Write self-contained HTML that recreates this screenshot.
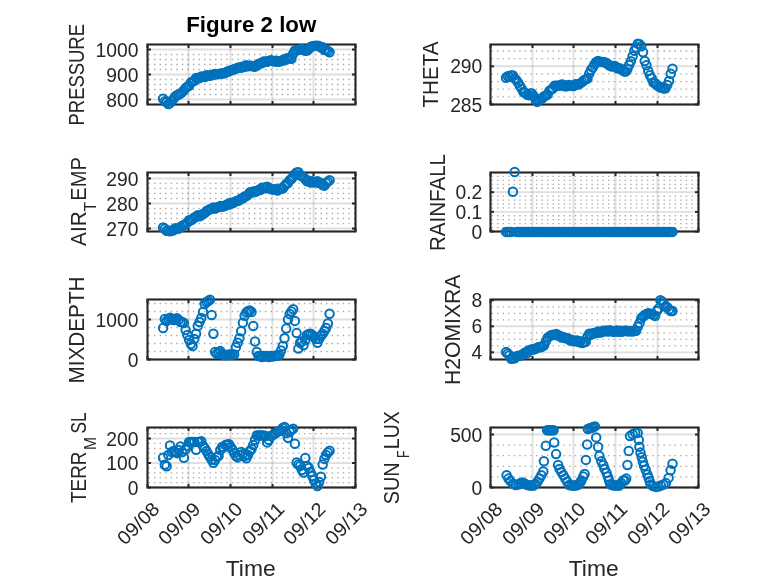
<!DOCTYPE html>
<html><head><meta charset="utf-8"><style>
html,body{margin:0;padding:0;background:#fff;width:778px;height:583px;overflow:hidden}
svg{display:block;will-change:transform}
text{font-family:"Liberation Sans",sans-serif;fill:#262626}
.tk{font-size:19.3px}
.yl{font-size:20px}
.sub{font-size:15px}
.ti{font-size:22.3px;font-weight:bold;fill:#000}
</style></head><body>
<svg width="778" height="583" viewBox="0 0 778 583">
<rect width="778" height="583" fill="#fff"/>
<line x1="147.5" y1="94.50" x2="355.5" y2="94.50" stroke="#a8a8a8" stroke-width="1.3" stroke-dasharray="1.4 4.15" stroke-dashoffset="-1.0"/>
<line x1="147.5" y1="89.50" x2="355.5" y2="89.50" stroke="#a8a8a8" stroke-width="1.3" stroke-dasharray="1.4 4.15" stroke-dashoffset="-1.0"/>
<line x1="147.5" y1="84.50" x2="355.5" y2="84.50" stroke="#a8a8a8" stroke-width="1.3" stroke-dasharray="1.4 4.15" stroke-dashoffset="-1.0"/>
<line x1="147.5" y1="79.50" x2="355.5" y2="79.50" stroke="#a8a8a8" stroke-width="1.3" stroke-dasharray="1.4 4.15" stroke-dashoffset="-1.0"/>
<line x1="147.5" y1="69.50" x2="355.5" y2="69.50" stroke="#a8a8a8" stroke-width="1.3" stroke-dasharray="1.4 4.15" stroke-dashoffset="-1.0"/>
<line x1="147.5" y1="64.50" x2="355.5" y2="64.50" stroke="#a8a8a8" stroke-width="1.3" stroke-dasharray="1.4 4.15" stroke-dashoffset="-1.0"/>
<line x1="147.5" y1="59.50" x2="355.5" y2="59.50" stroke="#a8a8a8" stroke-width="1.3" stroke-dasharray="1.4 4.15" stroke-dashoffset="-1.0"/>
<line x1="147.5" y1="54.50" x2="355.5" y2="54.50" stroke="#a8a8a8" stroke-width="1.3" stroke-dasharray="1.4 4.15" stroke-dashoffset="-1.0"/>
<line x1="147.5" y1="99.50" x2="355.5" y2="99.50" stroke="#262626" stroke-opacity="0.14" stroke-width="1.9"/>
<line x1="147.5" y1="74.50" x2="355.5" y2="74.50" stroke="#262626" stroke-opacity="0.14" stroke-width="1.9"/>
<line x1="147.5" y1="49.50" x2="355.5" y2="49.50" stroke="#262626" stroke-opacity="0.14" stroke-width="1.9"/>
<line x1="188.50" y1="44.5" x2="188.50" y2="104.5" stroke="#262626" stroke-opacity="0.14" stroke-width="1.9"/>
<line x1="230.50" y1="44.5" x2="230.50" y2="104.5" stroke="#262626" stroke-opacity="0.14" stroke-width="1.9"/>
<line x1="272.50" y1="44.5" x2="272.50" y2="104.5" stroke="#262626" stroke-opacity="0.14" stroke-width="1.9"/>
<line x1="313.50" y1="44.5" x2="313.50" y2="104.5" stroke="#262626" stroke-opacity="0.14" stroke-width="1.9"/>
<line x1="147.5" y1="99.50" x2="151.0" y2="99.50" stroke="#262626" stroke-width="2.0"/>
<line x1="355.5" y1="99.50" x2="352.0" y2="99.50" stroke="#262626" stroke-width="2.0"/>
<line x1="147.5" y1="74.50" x2="151.0" y2="74.50" stroke="#262626" stroke-width="2.0"/>
<line x1="355.5" y1="74.50" x2="352.0" y2="74.50" stroke="#262626" stroke-width="2.0"/>
<line x1="147.5" y1="49.50" x2="151.0" y2="49.50" stroke="#262626" stroke-width="2.0"/>
<line x1="355.5" y1="49.50" x2="352.0" y2="49.50" stroke="#262626" stroke-width="2.0"/>
<line x1="147.50" y1="44.5" x2="147.50" y2="48.0" stroke="#262626" stroke-width="2.0"/>
<line x1="147.50" y1="104.5" x2="147.50" y2="101.0" stroke="#262626" stroke-width="2.0"/>
<line x1="188.50" y1="44.5" x2="188.50" y2="48.0" stroke="#262626" stroke-width="2.0"/>
<line x1="188.50" y1="104.5" x2="188.50" y2="101.0" stroke="#262626" stroke-width="2.0"/>
<line x1="230.50" y1="44.5" x2="230.50" y2="48.0" stroke="#262626" stroke-width="2.0"/>
<line x1="230.50" y1="104.5" x2="230.50" y2="101.0" stroke="#262626" stroke-width="2.0"/>
<line x1="272.50" y1="44.5" x2="272.50" y2="48.0" stroke="#262626" stroke-width="2.0"/>
<line x1="272.50" y1="104.5" x2="272.50" y2="101.0" stroke="#262626" stroke-width="2.0"/>
<line x1="313.50" y1="44.5" x2="313.50" y2="48.0" stroke="#262626" stroke-width="2.0"/>
<line x1="313.50" y1="104.5" x2="313.50" y2="101.0" stroke="#262626" stroke-width="2.0"/>
<line x1="355.50" y1="44.5" x2="355.50" y2="48.0" stroke="#262626" stroke-width="2.0"/>
<line x1="355.50" y1="104.5" x2="355.50" y2="101.0" stroke="#262626" stroke-width="2.0"/>
<rect x="147.5" y="44.5" width="208.0" height="60.0" fill="none" stroke="#262626" stroke-width="2.1"/>
<text x="138.50" y="106.60" text-anchor="end" class="tk">800</text>
<text x="138.50" y="81.60" text-anchor="end" class="tk">900</text>
<text x="138.50" y="56.60" text-anchor="end" class="tk">1000</text>
<text transform="translate(84.00,125.50) rotate(-90)" style="font-size:22px" textLength="101.50" lengthAdjust="spacingAndGlyphs">PRESSURE</text>
<circle cx="163.11" cy="98.69" r="4.25" fill="none" stroke="#0072BD" stroke-width="2.0"/>
<circle cx="164.84" cy="101.35" r="4.25" fill="none" stroke="#0072BD" stroke-width="2.0"/>
<circle cx="166.58" cy="102.14" r="4.25" fill="none" stroke="#0072BD" stroke-width="2.0"/>
<circle cx="168.31" cy="104.05" r="4.25" fill="none" stroke="#0072BD" stroke-width="2.0"/>
<circle cx="170.04" cy="103.14" r="4.25" fill="none" stroke="#0072BD" stroke-width="2.0"/>
<circle cx="171.78" cy="100.64" r="4.25" fill="none" stroke="#0072BD" stroke-width="2.0"/>
<circle cx="173.51" cy="98.86" r="4.25" fill="none" stroke="#0072BD" stroke-width="2.0"/>
<circle cx="175.25" cy="96.38" r="4.25" fill="none" stroke="#0072BD" stroke-width="2.0"/>
<circle cx="176.98" cy="95.33" r="4.25" fill="none" stroke="#0072BD" stroke-width="2.0"/>
<circle cx="178.72" cy="94.46" r="4.25" fill="none" stroke="#0072BD" stroke-width="2.0"/>
<circle cx="180.45" cy="93.50" r="4.25" fill="none" stroke="#0072BD" stroke-width="2.0"/>
<circle cx="182.18" cy="92.37" r="4.25" fill="none" stroke="#0072BD" stroke-width="2.0"/>
<circle cx="183.92" cy="90.14" r="4.25" fill="none" stroke="#0072BD" stroke-width="2.0"/>
<circle cx="185.65" cy="88.11" r="4.25" fill="none" stroke="#0072BD" stroke-width="2.0"/>
<circle cx="187.39" cy="86.62" r="4.25" fill="none" stroke="#0072BD" stroke-width="2.0"/>
<circle cx="189.12" cy="85.73" r="4.25" fill="none" stroke="#0072BD" stroke-width="2.0"/>
<circle cx="190.85" cy="82.57" r="4.25" fill="none" stroke="#0072BD" stroke-width="2.0"/>
<circle cx="192.59" cy="81.46" r="4.25" fill="none" stroke="#0072BD" stroke-width="2.0"/>
<circle cx="194.32" cy="80.78" r="4.25" fill="none" stroke="#0072BD" stroke-width="2.0"/>
<circle cx="196.06" cy="78.05" r="4.25" fill="none" stroke="#0072BD" stroke-width="2.0"/>
<circle cx="197.79" cy="78.28" r="4.25" fill="none" stroke="#0072BD" stroke-width="2.0"/>
<circle cx="199.53" cy="78.11" r="4.25" fill="none" stroke="#0072BD" stroke-width="2.0"/>
<circle cx="201.26" cy="76.46" r="4.25" fill="none" stroke="#0072BD" stroke-width="2.0"/>
<circle cx="202.99" cy="76.69" r="4.25" fill="none" stroke="#0072BD" stroke-width="2.0"/>
<circle cx="204.73" cy="76.99" r="4.25" fill="none" stroke="#0072BD" stroke-width="2.0"/>
<circle cx="206.46" cy="75.25" r="4.25" fill="none" stroke="#0072BD" stroke-width="2.0"/>
<circle cx="208.20" cy="75.60" r="4.25" fill="none" stroke="#0072BD" stroke-width="2.0"/>
<circle cx="209.93" cy="75.66" r="4.25" fill="none" stroke="#0072BD" stroke-width="2.0"/>
<circle cx="211.66" cy="75.17" r="4.25" fill="none" stroke="#0072BD" stroke-width="2.0"/>
<circle cx="213.40" cy="74.52" r="4.25" fill="none" stroke="#0072BD" stroke-width="2.0"/>
<circle cx="215.13" cy="73.93" r="4.25" fill="none" stroke="#0072BD" stroke-width="2.0"/>
<circle cx="216.87" cy="74.33" r="4.25" fill="none" stroke="#0072BD" stroke-width="2.0"/>
<circle cx="218.60" cy="74.00" r="4.25" fill="none" stroke="#0072BD" stroke-width="2.0"/>
<circle cx="220.33" cy="73.80" r="4.25" fill="none" stroke="#0072BD" stroke-width="2.0"/>
<circle cx="222.07" cy="73.14" r="4.25" fill="none" stroke="#0072BD" stroke-width="2.0"/>
<circle cx="223.80" cy="73.51" r="4.25" fill="none" stroke="#0072BD" stroke-width="2.0"/>
<circle cx="225.54" cy="72.80" r="4.25" fill="none" stroke="#0072BD" stroke-width="2.0"/>
<circle cx="227.27" cy="71.41" r="4.25" fill="none" stroke="#0072BD" stroke-width="2.0"/>
<circle cx="229.01" cy="71.34" r="4.25" fill="none" stroke="#0072BD" stroke-width="2.0"/>
<circle cx="230.74" cy="70.31" r="4.25" fill="none" stroke="#0072BD" stroke-width="2.0"/>
<circle cx="232.47" cy="70.12" r="4.25" fill="none" stroke="#0072BD" stroke-width="2.0"/>
<circle cx="234.21" cy="69.14" r="4.25" fill="none" stroke="#0072BD" stroke-width="2.0"/>
<circle cx="235.94" cy="68.88" r="4.25" fill="none" stroke="#0072BD" stroke-width="2.0"/>
<circle cx="237.68" cy="67.73" r="4.25" fill="none" stroke="#0072BD" stroke-width="2.0"/>
<circle cx="239.41" cy="67.54" r="4.25" fill="none" stroke="#0072BD" stroke-width="2.0"/>
<circle cx="241.14" cy="67.67" r="4.25" fill="none" stroke="#0072BD" stroke-width="2.0"/>
<circle cx="242.88" cy="66.58" r="4.25" fill="none" stroke="#0072BD" stroke-width="2.0"/>
<circle cx="244.61" cy="66.89" r="4.25" fill="none" stroke="#0072BD" stroke-width="2.0"/>
<circle cx="246.35" cy="65.13" r="4.25" fill="none" stroke="#0072BD" stroke-width="2.0"/>
<circle cx="248.08" cy="66.18" r="4.25" fill="none" stroke="#0072BD" stroke-width="2.0"/>
<circle cx="249.82" cy="65.65" r="4.25" fill="none" stroke="#0072BD" stroke-width="2.0"/>
<circle cx="251.55" cy="65.85" r="4.25" fill="none" stroke="#0072BD" stroke-width="2.0"/>
<circle cx="253.28" cy="66.54" r="4.25" fill="none" stroke="#0072BD" stroke-width="2.0"/>
<circle cx="255.02" cy="66.63" r="4.25" fill="none" stroke="#0072BD" stroke-width="2.0"/>
<circle cx="256.75" cy="65.63" r="4.25" fill="none" stroke="#0072BD" stroke-width="2.0"/>
<circle cx="258.49" cy="64.08" r="4.25" fill="none" stroke="#0072BD" stroke-width="2.0"/>
<circle cx="260.22" cy="63.25" r="4.25" fill="none" stroke="#0072BD" stroke-width="2.0"/>
<circle cx="261.95" cy="63.13" r="4.25" fill="none" stroke="#0072BD" stroke-width="2.0"/>
<circle cx="263.69" cy="61.56" r="4.25" fill="none" stroke="#0072BD" stroke-width="2.0"/>
<circle cx="265.42" cy="61.46" r="4.25" fill="none" stroke="#0072BD" stroke-width="2.0"/>
<circle cx="267.16" cy="61.70" r="4.25" fill="none" stroke="#0072BD" stroke-width="2.0"/>
<circle cx="268.89" cy="61.07" r="4.25" fill="none" stroke="#0072BD" stroke-width="2.0"/>
<circle cx="270.63" cy="60.14" r="4.25" fill="none" stroke="#0072BD" stroke-width="2.0"/>
<circle cx="272.36" cy="60.81" r="4.25" fill="none" stroke="#0072BD" stroke-width="2.0"/>
<circle cx="274.09" cy="61.52" r="4.25" fill="none" stroke="#0072BD" stroke-width="2.0"/>
<circle cx="275.83" cy="60.75" r="4.25" fill="none" stroke="#0072BD" stroke-width="2.0"/>
<circle cx="277.56" cy="61.83" r="4.25" fill="none" stroke="#0072BD" stroke-width="2.0"/>
<circle cx="279.30" cy="61.54" r="4.25" fill="none" stroke="#0072BD" stroke-width="2.0"/>
<circle cx="281.03" cy="61.02" r="4.25" fill="none" stroke="#0072BD" stroke-width="2.0"/>
<circle cx="282.76" cy="60.00" r="4.25" fill="none" stroke="#0072BD" stroke-width="2.0"/>
<circle cx="284.50" cy="60.25" r="4.25" fill="none" stroke="#0072BD" stroke-width="2.0"/>
<circle cx="286.23" cy="58.51" r="4.25" fill="none" stroke="#0072BD" stroke-width="2.0"/>
<circle cx="287.97" cy="58.36" r="4.25" fill="none" stroke="#0072BD" stroke-width="2.0"/>
<circle cx="289.70" cy="58.44" r="4.25" fill="none" stroke="#0072BD" stroke-width="2.0"/>
<circle cx="291.44" cy="58.74" r="4.25" fill="none" stroke="#0072BD" stroke-width="2.0"/>
<circle cx="293.17" cy="53.73" r="4.25" fill="none" stroke="#0072BD" stroke-width="2.0"/>
<circle cx="294.90" cy="50.54" r="4.25" fill="none" stroke="#0072BD" stroke-width="2.0"/>
<circle cx="296.64" cy="50.34" r="4.25" fill="none" stroke="#0072BD" stroke-width="2.0"/>
<circle cx="298.37" cy="49.88" r="4.25" fill="none" stroke="#0072BD" stroke-width="2.0"/>
<circle cx="300.11" cy="49.45" r="4.25" fill="none" stroke="#0072BD" stroke-width="2.0"/>
<circle cx="301.84" cy="49.01" r="4.25" fill="none" stroke="#0072BD" stroke-width="2.0"/>
<circle cx="303.57" cy="50.04" r="4.25" fill="none" stroke="#0072BD" stroke-width="2.0"/>
<circle cx="305.31" cy="50.68" r="4.25" fill="none" stroke="#0072BD" stroke-width="2.0"/>
<circle cx="307.04" cy="50.57" r="4.25" fill="none" stroke="#0072BD" stroke-width="2.0"/>
<circle cx="308.78" cy="49.06" r="4.25" fill="none" stroke="#0072BD" stroke-width="2.0"/>
<circle cx="310.51" cy="47.04" r="4.25" fill="none" stroke="#0072BD" stroke-width="2.0"/>
<circle cx="312.25" cy="46.15" r="4.25" fill="none" stroke="#0072BD" stroke-width="2.0"/>
<circle cx="313.98" cy="45.95" r="4.25" fill="none" stroke="#0072BD" stroke-width="2.0"/>
<circle cx="315.71" cy="45.79" r="4.25" fill="none" stroke="#0072BD" stroke-width="2.0"/>
<circle cx="317.45" cy="45.64" r="4.25" fill="none" stroke="#0072BD" stroke-width="2.0"/>
<circle cx="319.18" cy="46.10" r="4.25" fill="none" stroke="#0072BD" stroke-width="2.0"/>
<circle cx="320.92" cy="47.49" r="4.25" fill="none" stroke="#0072BD" stroke-width="2.0"/>
<circle cx="322.65" cy="47.22" r="4.25" fill="none" stroke="#0072BD" stroke-width="2.0"/>
<circle cx="324.38" cy="49.96" r="4.25" fill="none" stroke="#0072BD" stroke-width="2.0"/>
<circle cx="326.12" cy="49.70" r="4.25" fill="none" stroke="#0072BD" stroke-width="2.0"/>
<circle cx="327.85" cy="50.88" r="4.25" fill="none" stroke="#0072BD" stroke-width="2.0"/>
<circle cx="329.59" cy="52.23" r="4.25" fill="none" stroke="#0072BD" stroke-width="2.0"/>
<line x1="490.5" y1="96.86" x2="698.5" y2="96.86" stroke="#a8a8a8" stroke-width="1.3" stroke-dasharray="1.4 4.15" stroke-dashoffset="-1.0"/>
<line x1="490.5" y1="89.21" x2="698.5" y2="89.21" stroke="#a8a8a8" stroke-width="1.3" stroke-dasharray="1.4 4.15" stroke-dashoffset="-1.0"/>
<line x1="490.5" y1="81.57" x2="698.5" y2="81.57" stroke="#a8a8a8" stroke-width="1.3" stroke-dasharray="1.4 4.15" stroke-dashoffset="-1.0"/>
<line x1="490.5" y1="73.93" x2="698.5" y2="73.93" stroke="#a8a8a8" stroke-width="1.3" stroke-dasharray="1.4 4.15" stroke-dashoffset="-1.0"/>
<line x1="490.5" y1="58.64" x2="698.5" y2="58.64" stroke="#a8a8a8" stroke-width="1.3" stroke-dasharray="1.4 4.15" stroke-dashoffset="-1.0"/>
<line x1="490.5" y1="51.00" x2="698.5" y2="51.00" stroke="#a8a8a8" stroke-width="1.3" stroke-dasharray="1.4 4.15" stroke-dashoffset="-1.0"/>
<line x1="490.5" y1="104.50" x2="698.5" y2="104.50" stroke="#262626" stroke-opacity="0.14" stroke-width="1.9"/>
<line x1="490.5" y1="66.28" x2="698.5" y2="66.28" stroke="#262626" stroke-opacity="0.14" stroke-width="1.9"/>
<line x1="532.50" y1="44.5" x2="532.50" y2="104.5" stroke="#262626" stroke-opacity="0.14" stroke-width="1.9"/>
<line x1="573.50" y1="44.5" x2="573.50" y2="104.5" stroke="#262626" stroke-opacity="0.14" stroke-width="1.9"/>
<line x1="615.50" y1="44.5" x2="615.50" y2="104.5" stroke="#262626" stroke-opacity="0.14" stroke-width="1.9"/>
<line x1="657.50" y1="44.5" x2="657.50" y2="104.5" stroke="#262626" stroke-opacity="0.14" stroke-width="1.9"/>
<line x1="490.5" y1="104.50" x2="494.0" y2="104.50" stroke="#262626" stroke-width="2.0"/>
<line x1="698.5" y1="104.50" x2="695.0" y2="104.50" stroke="#262626" stroke-width="2.0"/>
<line x1="490.5" y1="66.28" x2="494.0" y2="66.28" stroke="#262626" stroke-width="2.0"/>
<line x1="698.5" y1="66.28" x2="695.0" y2="66.28" stroke="#262626" stroke-width="2.0"/>
<line x1="490.50" y1="44.5" x2="490.50" y2="48.0" stroke="#262626" stroke-width="2.0"/>
<line x1="490.50" y1="104.5" x2="490.50" y2="101.0" stroke="#262626" stroke-width="2.0"/>
<line x1="532.50" y1="44.5" x2="532.50" y2="48.0" stroke="#262626" stroke-width="2.0"/>
<line x1="532.50" y1="104.5" x2="532.50" y2="101.0" stroke="#262626" stroke-width="2.0"/>
<line x1="573.50" y1="44.5" x2="573.50" y2="48.0" stroke="#262626" stroke-width="2.0"/>
<line x1="573.50" y1="104.5" x2="573.50" y2="101.0" stroke="#262626" stroke-width="2.0"/>
<line x1="615.50" y1="44.5" x2="615.50" y2="48.0" stroke="#262626" stroke-width="2.0"/>
<line x1="615.50" y1="104.5" x2="615.50" y2="101.0" stroke="#262626" stroke-width="2.0"/>
<line x1="657.50" y1="44.5" x2="657.50" y2="48.0" stroke="#262626" stroke-width="2.0"/>
<line x1="657.50" y1="104.5" x2="657.50" y2="101.0" stroke="#262626" stroke-width="2.0"/>
<line x1="698.50" y1="44.5" x2="698.50" y2="48.0" stroke="#262626" stroke-width="2.0"/>
<line x1="698.50" y1="104.5" x2="698.50" y2="101.0" stroke="#262626" stroke-width="2.0"/>
<rect x="490.5" y="44.5" width="208.0" height="60.0" fill="none" stroke="#262626" stroke-width="2.1"/>
<text x="482.30" y="111.60" text-anchor="end" class="tk">285</text>
<text x="482.30" y="73.38" text-anchor="end" class="tk">290</text>
<text transform="translate(437.50,107.50) rotate(-90)" style="font-size:22px" textLength="66.00" lengthAdjust="spacingAndGlyphs">THETA</text>
<circle cx="506.01" cy="77.69" r="4.25" fill="none" stroke="#0072BD" stroke-width="2.0"/>
<circle cx="507.74" cy="76.31" r="4.25" fill="none" stroke="#0072BD" stroke-width="2.0"/>
<circle cx="509.48" cy="76.86" r="4.25" fill="none" stroke="#0072BD" stroke-width="2.0"/>
<circle cx="511.21" cy="75.43" r="4.25" fill="none" stroke="#0072BD" stroke-width="2.0"/>
<circle cx="512.94" cy="75.58" r="4.25" fill="none" stroke="#0072BD" stroke-width="2.0"/>
<circle cx="514.68" cy="78.48" r="4.25" fill="none" stroke="#0072BD" stroke-width="2.0"/>
<circle cx="516.41" cy="80.11" r="4.25" fill="none" stroke="#0072BD" stroke-width="2.0"/>
<circle cx="518.15" cy="82.75" r="4.25" fill="none" stroke="#0072BD" stroke-width="2.0"/>
<circle cx="519.88" cy="85.72" r="4.25" fill="none" stroke="#0072BD" stroke-width="2.0"/>
<circle cx="521.62" cy="88.63" r="4.25" fill="none" stroke="#0072BD" stroke-width="2.0"/>
<circle cx="523.35" cy="92.07" r="4.25" fill="none" stroke="#0072BD" stroke-width="2.0"/>
<circle cx="525.08" cy="92.79" r="4.25" fill="none" stroke="#0072BD" stroke-width="2.0"/>
<circle cx="526.82" cy="94.62" r="4.25" fill="none" stroke="#0072BD" stroke-width="2.0"/>
<circle cx="528.55" cy="95.16" r="4.25" fill="none" stroke="#0072BD" stroke-width="2.0"/>
<circle cx="530.29" cy="93.56" r="4.25" fill="none" stroke="#0072BD" stroke-width="2.0"/>
<circle cx="532.02" cy="93.60" r="4.25" fill="none" stroke="#0072BD" stroke-width="2.0"/>
<circle cx="533.75" cy="96.33" r="4.25" fill="none" stroke="#0072BD" stroke-width="2.0"/>
<circle cx="535.49" cy="99.27" r="4.25" fill="none" stroke="#0072BD" stroke-width="2.0"/>
<circle cx="537.22" cy="101.91" r="4.25" fill="none" stroke="#0072BD" stroke-width="2.0"/>
<circle cx="538.96" cy="99.75" r="4.25" fill="none" stroke="#0072BD" stroke-width="2.0"/>
<circle cx="540.69" cy="98.64" r="4.25" fill="none" stroke="#0072BD" stroke-width="2.0"/>
<circle cx="542.42" cy="98.17" r="4.25" fill="none" stroke="#0072BD" stroke-width="2.0"/>
<circle cx="544.16" cy="96.30" r="4.25" fill="none" stroke="#0072BD" stroke-width="2.0"/>
<circle cx="545.89" cy="95.54" r="4.25" fill="none" stroke="#0072BD" stroke-width="2.0"/>
<circle cx="547.63" cy="94.46" r="4.25" fill="none" stroke="#0072BD" stroke-width="2.0"/>
<circle cx="549.36" cy="90.91" r="4.25" fill="none" stroke="#0072BD" stroke-width="2.0"/>
<circle cx="551.10" cy="89.63" r="4.25" fill="none" stroke="#0072BD" stroke-width="2.0"/>
<circle cx="552.83" cy="88.45" r="4.25" fill="none" stroke="#0072BD" stroke-width="2.0"/>
<circle cx="554.56" cy="85.64" r="4.25" fill="none" stroke="#0072BD" stroke-width="2.0"/>
<circle cx="556.30" cy="85.80" r="4.25" fill="none" stroke="#0072BD" stroke-width="2.0"/>
<circle cx="558.03" cy="85.87" r="4.25" fill="none" stroke="#0072BD" stroke-width="2.0"/>
<circle cx="559.77" cy="85.78" r="4.25" fill="none" stroke="#0072BD" stroke-width="2.0"/>
<circle cx="561.50" cy="84.47" r="4.25" fill="none" stroke="#0072BD" stroke-width="2.0"/>
<circle cx="563.24" cy="84.67" r="4.25" fill="none" stroke="#0072BD" stroke-width="2.0"/>
<circle cx="564.97" cy="86.18" r="4.25" fill="none" stroke="#0072BD" stroke-width="2.0"/>
<circle cx="566.70" cy="86.24" r="4.25" fill="none" stroke="#0072BD" stroke-width="2.0"/>
<circle cx="568.44" cy="84.96" r="4.25" fill="none" stroke="#0072BD" stroke-width="2.0"/>
<circle cx="570.17" cy="85.39" r="4.25" fill="none" stroke="#0072BD" stroke-width="2.0"/>
<circle cx="571.91" cy="85.89" r="4.25" fill="none" stroke="#0072BD" stroke-width="2.0"/>
<circle cx="573.64" cy="86.07" r="4.25" fill="none" stroke="#0072BD" stroke-width="2.0"/>
<circle cx="575.37" cy="84.26" r="4.25" fill="none" stroke="#0072BD" stroke-width="2.0"/>
<circle cx="577.11" cy="84.56" r="4.25" fill="none" stroke="#0072BD" stroke-width="2.0"/>
<circle cx="578.84" cy="84.22" r="4.25" fill="none" stroke="#0072BD" stroke-width="2.0"/>
<circle cx="580.58" cy="83.15" r="4.25" fill="none" stroke="#0072BD" stroke-width="2.0"/>
<circle cx="582.31" cy="81.86" r="4.25" fill="none" stroke="#0072BD" stroke-width="2.0"/>
<circle cx="584.04" cy="80.33" r="4.25" fill="none" stroke="#0072BD" stroke-width="2.0"/>
<circle cx="585.78" cy="79.19" r="4.25" fill="none" stroke="#0072BD" stroke-width="2.0"/>
<circle cx="587.51" cy="78.43" r="4.25" fill="none" stroke="#0072BD" stroke-width="2.0"/>
<circle cx="589.25" cy="73.59" r="4.25" fill="none" stroke="#0072BD" stroke-width="2.0"/>
<circle cx="590.98" cy="70.05" r="4.25" fill="none" stroke="#0072BD" stroke-width="2.0"/>
<circle cx="592.72" cy="67.62" r="4.25" fill="none" stroke="#0072BD" stroke-width="2.0"/>
<circle cx="594.45" cy="64.57" r="4.25" fill="none" stroke="#0072BD" stroke-width="2.0"/>
<circle cx="596.18" cy="62.22" r="4.25" fill="none" stroke="#0072BD" stroke-width="2.0"/>
<circle cx="597.92" cy="61.08" r="4.25" fill="none" stroke="#0072BD" stroke-width="2.0"/>
<circle cx="599.65" cy="61.76" r="4.25" fill="none" stroke="#0072BD" stroke-width="2.0"/>
<circle cx="601.39" cy="61.89" r="4.25" fill="none" stroke="#0072BD" stroke-width="2.0"/>
<circle cx="603.12" cy="62.08" r="4.25" fill="none" stroke="#0072BD" stroke-width="2.0"/>
<circle cx="604.86" cy="62.23" r="4.25" fill="none" stroke="#0072BD" stroke-width="2.0"/>
<circle cx="606.59" cy="63.28" r="4.25" fill="none" stroke="#0072BD" stroke-width="2.0"/>
<circle cx="608.32" cy="64.44" r="4.25" fill="none" stroke="#0072BD" stroke-width="2.0"/>
<circle cx="610.06" cy="65.77" r="4.25" fill="none" stroke="#0072BD" stroke-width="2.0"/>
<circle cx="611.79" cy="66.60" r="4.25" fill="none" stroke="#0072BD" stroke-width="2.0"/>
<circle cx="613.53" cy="66.01" r="4.25" fill="none" stroke="#0072BD" stroke-width="2.0"/>
<circle cx="615.26" cy="66.33" r="4.25" fill="none" stroke="#0072BD" stroke-width="2.0"/>
<circle cx="616.99" cy="68.05" r="4.25" fill="none" stroke="#0072BD" stroke-width="2.0"/>
<circle cx="618.73" cy="68.47" r="4.25" fill="none" stroke="#0072BD" stroke-width="2.0"/>
<circle cx="620.46" cy="68.42" r="4.25" fill="none" stroke="#0072BD" stroke-width="2.0"/>
<circle cx="622.20" cy="70.11" r="4.25" fill="none" stroke="#0072BD" stroke-width="2.0"/>
<circle cx="623.93" cy="71.40" r="4.25" fill="none" stroke="#0072BD" stroke-width="2.0"/>
<circle cx="625.66" cy="71.48" r="4.25" fill="none" stroke="#0072BD" stroke-width="2.0"/>
<circle cx="627.40" cy="69.24" r="4.25" fill="none" stroke="#0072BD" stroke-width="2.0"/>
<circle cx="629.13" cy="65.00" r="4.25" fill="none" stroke="#0072BD" stroke-width="2.0"/>
<circle cx="630.87" cy="61.27" r="4.25" fill="none" stroke="#0072BD" stroke-width="2.0"/>
<circle cx="632.60" cy="56.33" r="4.25" fill="none" stroke="#0072BD" stroke-width="2.0"/>
<circle cx="634.34" cy="50.73" r="4.25" fill="none" stroke="#0072BD" stroke-width="2.0"/>
<circle cx="636.07" cy="47.61" r="4.25" fill="none" stroke="#0072BD" stroke-width="2.0"/>
<circle cx="637.80" cy="43.65" r="4.25" fill="none" stroke="#0072BD" stroke-width="2.0"/>
<circle cx="639.54" cy="44.23" r="4.25" fill="none" stroke="#0072BD" stroke-width="2.0"/>
<circle cx="641.27" cy="46.30" r="4.25" fill="none" stroke="#0072BD" stroke-width="2.0"/>
<circle cx="643.01" cy="52.28" r="4.25" fill="none" stroke="#0072BD" stroke-width="2.0"/>
<circle cx="644.74" cy="60.94" r="4.25" fill="none" stroke="#0072BD" stroke-width="2.0"/>
<circle cx="646.47" cy="65.24" r="4.25" fill="none" stroke="#0072BD" stroke-width="2.0"/>
<circle cx="648.21" cy="70.97" r="4.25" fill="none" stroke="#0072BD" stroke-width="2.0"/>
<circle cx="649.94" cy="75.25" r="4.25" fill="none" stroke="#0072BD" stroke-width="2.0"/>
<circle cx="651.68" cy="78.33" r="4.25" fill="none" stroke="#0072BD" stroke-width="2.0"/>
<circle cx="653.41" cy="82.54" r="4.25" fill="none" stroke="#0072BD" stroke-width="2.0"/>
<circle cx="655.15" cy="83.23" r="4.25" fill="none" stroke="#0072BD" stroke-width="2.0"/>
<circle cx="656.88" cy="84.96" r="4.25" fill="none" stroke="#0072BD" stroke-width="2.0"/>
<circle cx="658.61" cy="86.31" r="4.25" fill="none" stroke="#0072BD" stroke-width="2.0"/>
<circle cx="660.35" cy="87.42" r="4.25" fill="none" stroke="#0072BD" stroke-width="2.0"/>
<circle cx="662.08" cy="87.48" r="4.25" fill="none" stroke="#0072BD" stroke-width="2.0"/>
<circle cx="663.82" cy="88.61" r="4.25" fill="none" stroke="#0072BD" stroke-width="2.0"/>
<circle cx="665.55" cy="88.29" r="4.25" fill="none" stroke="#0072BD" stroke-width="2.0"/>
<circle cx="667.28" cy="85.07" r="4.25" fill="none" stroke="#0072BD" stroke-width="2.0"/>
<circle cx="669.02" cy="80.91" r="4.25" fill="none" stroke="#0072BD" stroke-width="2.0"/>
<circle cx="670.75" cy="73.85" r="4.25" fill="none" stroke="#0072BD" stroke-width="2.0"/>
<circle cx="672.49" cy="68.66" r="4.25" fill="none" stroke="#0072BD" stroke-width="2.0"/>
<line x1="147.5" y1="223.53" x2="355.5" y2="223.53" stroke="#a8a8a8" stroke-width="1.3" stroke-dasharray="1.4 4.15" stroke-dashoffset="-1.0"/>
<line x1="147.5" y1="218.52" x2="355.5" y2="218.52" stroke="#a8a8a8" stroke-width="1.3" stroke-dasharray="1.4 4.15" stroke-dashoffset="-1.0"/>
<line x1="147.5" y1="213.51" x2="355.5" y2="213.51" stroke="#a8a8a8" stroke-width="1.3" stroke-dasharray="1.4 4.15" stroke-dashoffset="-1.0"/>
<line x1="147.5" y1="208.50" x2="355.5" y2="208.50" stroke="#a8a8a8" stroke-width="1.3" stroke-dasharray="1.4 4.15" stroke-dashoffset="-1.0"/>
<line x1="147.5" y1="198.48" x2="355.5" y2="198.48" stroke="#a8a8a8" stroke-width="1.3" stroke-dasharray="1.4 4.15" stroke-dashoffset="-1.0"/>
<line x1="147.5" y1="193.47" x2="355.5" y2="193.47" stroke="#a8a8a8" stroke-width="1.3" stroke-dasharray="1.4 4.15" stroke-dashoffset="-1.0"/>
<line x1="147.5" y1="188.46" x2="355.5" y2="188.46" stroke="#a8a8a8" stroke-width="1.3" stroke-dasharray="1.4 4.15" stroke-dashoffset="-1.0"/>
<line x1="147.5" y1="183.45" x2="355.5" y2="183.45" stroke="#a8a8a8" stroke-width="1.3" stroke-dasharray="1.4 4.15" stroke-dashoffset="-1.0"/>
<line x1="147.5" y1="228.54" x2="355.5" y2="228.54" stroke="#262626" stroke-opacity="0.14" stroke-width="1.9"/>
<line x1="147.5" y1="203.49" x2="355.5" y2="203.49" stroke="#262626" stroke-opacity="0.14" stroke-width="1.9"/>
<line x1="147.5" y1="178.44" x2="355.5" y2="178.44" stroke="#262626" stroke-opacity="0.14" stroke-width="1.9"/>
<line x1="188.50" y1="172.5" x2="188.50" y2="231.5" stroke="#262626" stroke-opacity="0.14" stroke-width="1.9"/>
<line x1="230.50" y1="172.5" x2="230.50" y2="231.5" stroke="#262626" stroke-opacity="0.14" stroke-width="1.9"/>
<line x1="272.50" y1="172.5" x2="272.50" y2="231.5" stroke="#262626" stroke-opacity="0.14" stroke-width="1.9"/>
<line x1="313.50" y1="172.5" x2="313.50" y2="231.5" stroke="#262626" stroke-opacity="0.14" stroke-width="1.9"/>
<line x1="147.5" y1="228.54" x2="151.0" y2="228.54" stroke="#262626" stroke-width="2.0"/>
<line x1="355.5" y1="228.54" x2="352.0" y2="228.54" stroke="#262626" stroke-width="2.0"/>
<line x1="147.5" y1="203.49" x2="151.0" y2="203.49" stroke="#262626" stroke-width="2.0"/>
<line x1="355.5" y1="203.49" x2="352.0" y2="203.49" stroke="#262626" stroke-width="2.0"/>
<line x1="147.5" y1="178.44" x2="151.0" y2="178.44" stroke="#262626" stroke-width="2.0"/>
<line x1="355.5" y1="178.44" x2="352.0" y2="178.44" stroke="#262626" stroke-width="2.0"/>
<line x1="147.50" y1="172.5" x2="147.50" y2="176.0" stroke="#262626" stroke-width="2.0"/>
<line x1="147.50" y1="231.5" x2="147.50" y2="228.0" stroke="#262626" stroke-width="2.0"/>
<line x1="188.50" y1="172.5" x2="188.50" y2="176.0" stroke="#262626" stroke-width="2.0"/>
<line x1="188.50" y1="231.5" x2="188.50" y2="228.0" stroke="#262626" stroke-width="2.0"/>
<line x1="230.50" y1="172.5" x2="230.50" y2="176.0" stroke="#262626" stroke-width="2.0"/>
<line x1="230.50" y1="231.5" x2="230.50" y2="228.0" stroke="#262626" stroke-width="2.0"/>
<line x1="272.50" y1="172.5" x2="272.50" y2="176.0" stroke="#262626" stroke-width="2.0"/>
<line x1="272.50" y1="231.5" x2="272.50" y2="228.0" stroke="#262626" stroke-width="2.0"/>
<line x1="313.50" y1="172.5" x2="313.50" y2="176.0" stroke="#262626" stroke-width="2.0"/>
<line x1="313.50" y1="231.5" x2="313.50" y2="228.0" stroke="#262626" stroke-width="2.0"/>
<line x1="355.50" y1="172.5" x2="355.50" y2="176.0" stroke="#262626" stroke-width="2.0"/>
<line x1="355.50" y1="231.5" x2="355.50" y2="228.0" stroke="#262626" stroke-width="2.0"/>
<rect x="147.5" y="172.5" width="208.0" height="59.0" fill="none" stroke="#262626" stroke-width="2.1"/>
<text x="138.50" y="235.64" text-anchor="end" class="tk">270</text>
<text x="138.50" y="210.59" text-anchor="end" class="tk">280</text>
<text x="138.50" y="185.54" text-anchor="end" class="tk">290</text>
<text transform="translate(85.80,246.00) rotate(-90)" style="font-size:22px" textLength="34.70" lengthAdjust="spacingAndGlyphs">AIR</text>
<text transform="translate(95.90,211.50) rotate(-90)" style="font-size:16.5px" textLength="9.50" lengthAdjust="spacingAndGlyphs">T</text>
<text transform="translate(85.80,200.70) rotate(-90)" style="font-size:22px" textLength="43.50" lengthAdjust="spacingAndGlyphs">EMP</text>
<circle cx="163.11" cy="227.50" r="4.25" fill="none" stroke="#0072BD" stroke-width="2.0"/>
<circle cx="164.84" cy="228.83" r="4.25" fill="none" stroke="#0072BD" stroke-width="2.0"/>
<circle cx="166.58" cy="230.70" r="4.25" fill="none" stroke="#0072BD" stroke-width="2.0"/>
<circle cx="168.31" cy="230.84" r="4.25" fill="none" stroke="#0072BD" stroke-width="2.0"/>
<circle cx="170.04" cy="231.37" r="4.25" fill="none" stroke="#0072BD" stroke-width="2.0"/>
<circle cx="171.78" cy="230.59" r="4.25" fill="none" stroke="#0072BD" stroke-width="2.0"/>
<circle cx="173.51" cy="230.20" r="4.25" fill="none" stroke="#0072BD" stroke-width="2.0"/>
<circle cx="175.25" cy="228.29" r="4.25" fill="none" stroke="#0072BD" stroke-width="2.0"/>
<circle cx="176.98" cy="228.85" r="4.25" fill="none" stroke="#0072BD" stroke-width="2.0"/>
<circle cx="178.72" cy="228.54" r="4.25" fill="none" stroke="#0072BD" stroke-width="2.0"/>
<circle cx="180.45" cy="227.26" r="4.25" fill="none" stroke="#0072BD" stroke-width="2.0"/>
<circle cx="182.18" cy="225.66" r="4.25" fill="none" stroke="#0072BD" stroke-width="2.0"/>
<circle cx="183.92" cy="225.20" r="4.25" fill="none" stroke="#0072BD" stroke-width="2.0"/>
<circle cx="185.65" cy="224.11" r="4.25" fill="none" stroke="#0072BD" stroke-width="2.0"/>
<circle cx="187.39" cy="222.61" r="4.25" fill="none" stroke="#0072BD" stroke-width="2.0"/>
<circle cx="189.12" cy="220.22" r="4.25" fill="none" stroke="#0072BD" stroke-width="2.0"/>
<circle cx="190.85" cy="220.24" r="4.25" fill="none" stroke="#0072BD" stroke-width="2.0"/>
<circle cx="192.59" cy="219.24" r="4.25" fill="none" stroke="#0072BD" stroke-width="2.0"/>
<circle cx="194.32" cy="217.43" r="4.25" fill="none" stroke="#0072BD" stroke-width="2.0"/>
<circle cx="196.06" cy="216.89" r="4.25" fill="none" stroke="#0072BD" stroke-width="2.0"/>
<circle cx="197.79" cy="215.17" r="4.25" fill="none" stroke="#0072BD" stroke-width="2.0"/>
<circle cx="199.53" cy="216.18" r="4.25" fill="none" stroke="#0072BD" stroke-width="2.0"/>
<circle cx="201.26" cy="215.17" r="4.25" fill="none" stroke="#0072BD" stroke-width="2.0"/>
<circle cx="202.99" cy="213.90" r="4.25" fill="none" stroke="#0072BD" stroke-width="2.0"/>
<circle cx="204.73" cy="213.13" r="4.25" fill="none" stroke="#0072BD" stroke-width="2.0"/>
<circle cx="206.46" cy="211.12" r="4.25" fill="none" stroke="#0072BD" stroke-width="2.0"/>
<circle cx="208.20" cy="210.30" r="4.25" fill="none" stroke="#0072BD" stroke-width="2.0"/>
<circle cx="209.93" cy="209.16" r="4.25" fill="none" stroke="#0072BD" stroke-width="2.0"/>
<circle cx="211.66" cy="208.75" r="4.25" fill="none" stroke="#0072BD" stroke-width="2.0"/>
<circle cx="213.40" cy="207.45" r="4.25" fill="none" stroke="#0072BD" stroke-width="2.0"/>
<circle cx="215.13" cy="208.56" r="4.25" fill="none" stroke="#0072BD" stroke-width="2.0"/>
<circle cx="216.87" cy="207.44" r="4.25" fill="none" stroke="#0072BD" stroke-width="2.0"/>
<circle cx="218.60" cy="207.01" r="4.25" fill="none" stroke="#0072BD" stroke-width="2.0"/>
<circle cx="220.33" cy="206.00" r="4.25" fill="none" stroke="#0072BD" stroke-width="2.0"/>
<circle cx="222.07" cy="206.64" r="4.25" fill="none" stroke="#0072BD" stroke-width="2.0"/>
<circle cx="223.80" cy="206.34" r="4.25" fill="none" stroke="#0072BD" stroke-width="2.0"/>
<circle cx="225.54" cy="205.45" r="4.25" fill="none" stroke="#0072BD" stroke-width="2.0"/>
<circle cx="227.27" cy="204.21" r="4.25" fill="none" stroke="#0072BD" stroke-width="2.0"/>
<circle cx="229.01" cy="204.53" r="4.25" fill="none" stroke="#0072BD" stroke-width="2.0"/>
<circle cx="230.74" cy="202.74" r="4.25" fill="none" stroke="#0072BD" stroke-width="2.0"/>
<circle cx="232.47" cy="203.37" r="4.25" fill="none" stroke="#0072BD" stroke-width="2.0"/>
<circle cx="234.21" cy="202.32" r="4.25" fill="none" stroke="#0072BD" stroke-width="2.0"/>
<circle cx="235.94" cy="201.13" r="4.25" fill="none" stroke="#0072BD" stroke-width="2.0"/>
<circle cx="237.68" cy="200.75" r="4.25" fill="none" stroke="#0072BD" stroke-width="2.0"/>
<circle cx="239.41" cy="200.18" r="4.25" fill="none" stroke="#0072BD" stroke-width="2.0"/>
<circle cx="241.14" cy="198.55" r="4.25" fill="none" stroke="#0072BD" stroke-width="2.0"/>
<circle cx="242.88" cy="198.41" r="4.25" fill="none" stroke="#0072BD" stroke-width="2.0"/>
<circle cx="244.61" cy="196.44" r="4.25" fill="none" stroke="#0072BD" stroke-width="2.0"/>
<circle cx="246.35" cy="196.11" r="4.25" fill="none" stroke="#0072BD" stroke-width="2.0"/>
<circle cx="248.08" cy="194.85" r="4.25" fill="none" stroke="#0072BD" stroke-width="2.0"/>
<circle cx="249.82" cy="192.37" r="4.25" fill="none" stroke="#0072BD" stroke-width="2.0"/>
<circle cx="251.55" cy="192.57" r="4.25" fill="none" stroke="#0072BD" stroke-width="2.0"/>
<circle cx="253.28" cy="191.56" r="4.25" fill="none" stroke="#0072BD" stroke-width="2.0"/>
<circle cx="255.02" cy="191.96" r="4.25" fill="none" stroke="#0072BD" stroke-width="2.0"/>
<circle cx="256.75" cy="190.98" r="4.25" fill="none" stroke="#0072BD" stroke-width="2.0"/>
<circle cx="258.49" cy="190.01" r="4.25" fill="none" stroke="#0072BD" stroke-width="2.0"/>
<circle cx="260.22" cy="189.98" r="4.25" fill="none" stroke="#0072BD" stroke-width="2.0"/>
<circle cx="261.95" cy="187.81" r="4.25" fill="none" stroke="#0072BD" stroke-width="2.0"/>
<circle cx="263.69" cy="188.18" r="4.25" fill="none" stroke="#0072BD" stroke-width="2.0"/>
<circle cx="265.42" cy="187.23" r="4.25" fill="none" stroke="#0072BD" stroke-width="2.0"/>
<circle cx="267.16" cy="186.73" r="4.25" fill="none" stroke="#0072BD" stroke-width="2.0"/>
<circle cx="268.89" cy="188.50" r="4.25" fill="none" stroke="#0072BD" stroke-width="2.0"/>
<circle cx="270.63" cy="188.63" r="4.25" fill="none" stroke="#0072BD" stroke-width="2.0"/>
<circle cx="272.36" cy="189.61" r="4.25" fill="none" stroke="#0072BD" stroke-width="2.0"/>
<circle cx="274.09" cy="189.41" r="4.25" fill="none" stroke="#0072BD" stroke-width="2.0"/>
<circle cx="275.83" cy="189.28" r="4.25" fill="none" stroke="#0072BD" stroke-width="2.0"/>
<circle cx="277.56" cy="190.51" r="4.25" fill="none" stroke="#0072BD" stroke-width="2.0"/>
<circle cx="279.30" cy="188.84" r="4.25" fill="none" stroke="#0072BD" stroke-width="2.0"/>
<circle cx="281.03" cy="188.63" r="4.25" fill="none" stroke="#0072BD" stroke-width="2.0"/>
<circle cx="282.76" cy="188.54" r="4.25" fill="none" stroke="#0072BD" stroke-width="2.0"/>
<circle cx="284.50" cy="185.99" r="4.25" fill="none" stroke="#0072BD" stroke-width="2.0"/>
<circle cx="286.23" cy="184.05" r="4.25" fill="none" stroke="#0072BD" stroke-width="2.0"/>
<circle cx="287.97" cy="183.06" r="4.25" fill="none" stroke="#0072BD" stroke-width="2.0"/>
<circle cx="289.70" cy="180.13" r="4.25" fill="none" stroke="#0072BD" stroke-width="2.0"/>
<circle cx="291.44" cy="179.08" r="4.25" fill="none" stroke="#0072BD" stroke-width="2.0"/>
<circle cx="293.17" cy="176.58" r="4.25" fill="none" stroke="#0072BD" stroke-width="2.0"/>
<circle cx="294.90" cy="174.26" r="4.25" fill="none" stroke="#0072BD" stroke-width="2.0"/>
<circle cx="296.64" cy="172.46" r="4.25" fill="none" stroke="#0072BD" stroke-width="2.0"/>
<circle cx="298.37" cy="172.30" r="4.25" fill="none" stroke="#0072BD" stroke-width="2.0"/>
<circle cx="300.11" cy="175.29" r="4.25" fill="none" stroke="#0072BD" stroke-width="2.0"/>
<circle cx="301.84" cy="175.97" r="4.25" fill="none" stroke="#0072BD" stroke-width="2.0"/>
<circle cx="303.57" cy="177.26" r="4.25" fill="none" stroke="#0072BD" stroke-width="2.0"/>
<circle cx="305.31" cy="179.25" r="4.25" fill="none" stroke="#0072BD" stroke-width="2.0"/>
<circle cx="307.04" cy="181.21" r="4.25" fill="none" stroke="#0072BD" stroke-width="2.0"/>
<circle cx="308.78" cy="180.66" r="4.25" fill="none" stroke="#0072BD" stroke-width="2.0"/>
<circle cx="310.51" cy="182.39" r="4.25" fill="none" stroke="#0072BD" stroke-width="2.0"/>
<circle cx="312.25" cy="181.16" r="4.25" fill="none" stroke="#0072BD" stroke-width="2.0"/>
<circle cx="313.98" cy="182.57" r="4.25" fill="none" stroke="#0072BD" stroke-width="2.0"/>
<circle cx="315.71" cy="181.88" r="4.25" fill="none" stroke="#0072BD" stroke-width="2.0"/>
<circle cx="317.45" cy="181.26" r="4.25" fill="none" stroke="#0072BD" stroke-width="2.0"/>
<circle cx="319.18" cy="183.11" r="4.25" fill="none" stroke="#0072BD" stroke-width="2.0"/>
<circle cx="320.92" cy="183.07" r="4.25" fill="none" stroke="#0072BD" stroke-width="2.0"/>
<circle cx="322.65" cy="184.96" r="4.25" fill="none" stroke="#0072BD" stroke-width="2.0"/>
<circle cx="324.38" cy="185.66" r="4.25" fill="none" stroke="#0072BD" stroke-width="2.0"/>
<circle cx="326.12" cy="183.25" r="4.25" fill="none" stroke="#0072BD" stroke-width="2.0"/>
<circle cx="327.85" cy="181.64" r="4.25" fill="none" stroke="#0072BD" stroke-width="2.0"/>
<circle cx="329.59" cy="180.17" r="4.25" fill="none" stroke="#0072BD" stroke-width="2.0"/>
<line x1="490.5" y1="227.57" x2="698.5" y2="227.57" stroke="#a8a8a8" stroke-width="1.3" stroke-dasharray="1.4 4.15" stroke-dashoffset="-1.0"/>
<line x1="490.5" y1="223.63" x2="698.5" y2="223.63" stroke="#a8a8a8" stroke-width="1.3" stroke-dasharray="1.4 4.15" stroke-dashoffset="-1.0"/>
<line x1="490.5" y1="219.70" x2="698.5" y2="219.70" stroke="#a8a8a8" stroke-width="1.3" stroke-dasharray="1.4 4.15" stroke-dashoffset="-1.0"/>
<line x1="490.5" y1="215.77" x2="698.5" y2="215.77" stroke="#a8a8a8" stroke-width="1.3" stroke-dasharray="1.4 4.15" stroke-dashoffset="-1.0"/>
<line x1="490.5" y1="207.90" x2="698.5" y2="207.90" stroke="#a8a8a8" stroke-width="1.3" stroke-dasharray="1.4 4.15" stroke-dashoffset="-1.0"/>
<line x1="490.5" y1="203.97" x2="698.5" y2="203.97" stroke="#a8a8a8" stroke-width="1.3" stroke-dasharray="1.4 4.15" stroke-dashoffset="-1.0"/>
<line x1="490.5" y1="200.03" x2="698.5" y2="200.03" stroke="#a8a8a8" stroke-width="1.3" stroke-dasharray="1.4 4.15" stroke-dashoffset="-1.0"/>
<line x1="490.5" y1="196.10" x2="698.5" y2="196.10" stroke="#a8a8a8" stroke-width="1.3" stroke-dasharray="1.4 4.15" stroke-dashoffset="-1.0"/>
<line x1="490.5" y1="188.23" x2="698.5" y2="188.23" stroke="#a8a8a8" stroke-width="1.3" stroke-dasharray="1.4 4.15" stroke-dashoffset="-1.0"/>
<line x1="490.5" y1="184.30" x2="698.5" y2="184.30" stroke="#a8a8a8" stroke-width="1.3" stroke-dasharray="1.4 4.15" stroke-dashoffset="-1.0"/>
<line x1="490.5" y1="180.37" x2="698.5" y2="180.37" stroke="#a8a8a8" stroke-width="1.3" stroke-dasharray="1.4 4.15" stroke-dashoffset="-1.0"/>
<line x1="490.5" y1="176.43" x2="698.5" y2="176.43" stroke="#a8a8a8" stroke-width="1.3" stroke-dasharray="1.4 4.15" stroke-dashoffset="-1.0"/>
<line x1="490.5" y1="231.50" x2="698.5" y2="231.50" stroke="#262626" stroke-opacity="0.14" stroke-width="1.9"/>
<line x1="490.5" y1="211.83" x2="698.5" y2="211.83" stroke="#262626" stroke-opacity="0.14" stroke-width="1.9"/>
<line x1="490.5" y1="192.17" x2="698.5" y2="192.17" stroke="#262626" stroke-opacity="0.14" stroke-width="1.9"/>
<line x1="532.50" y1="172.5" x2="532.50" y2="231.5" stroke="#262626" stroke-opacity="0.14" stroke-width="1.9"/>
<line x1="573.50" y1="172.5" x2="573.50" y2="231.5" stroke="#262626" stroke-opacity="0.14" stroke-width="1.9"/>
<line x1="615.50" y1="172.5" x2="615.50" y2="231.5" stroke="#262626" stroke-opacity="0.14" stroke-width="1.9"/>
<line x1="657.50" y1="172.5" x2="657.50" y2="231.5" stroke="#262626" stroke-opacity="0.14" stroke-width="1.9"/>
<line x1="490.5" y1="231.50" x2="494.0" y2="231.50" stroke="#262626" stroke-width="2.0"/>
<line x1="698.5" y1="231.50" x2="695.0" y2="231.50" stroke="#262626" stroke-width="2.0"/>
<line x1="490.5" y1="211.83" x2="494.0" y2="211.83" stroke="#262626" stroke-width="2.0"/>
<line x1="698.5" y1="211.83" x2="695.0" y2="211.83" stroke="#262626" stroke-width="2.0"/>
<line x1="490.5" y1="192.17" x2="494.0" y2="192.17" stroke="#262626" stroke-width="2.0"/>
<line x1="698.5" y1="192.17" x2="695.0" y2="192.17" stroke="#262626" stroke-width="2.0"/>
<line x1="490.50" y1="172.5" x2="490.50" y2="176.0" stroke="#262626" stroke-width="2.0"/>
<line x1="490.50" y1="231.5" x2="490.50" y2="228.0" stroke="#262626" stroke-width="2.0"/>
<line x1="532.50" y1="172.5" x2="532.50" y2="176.0" stroke="#262626" stroke-width="2.0"/>
<line x1="532.50" y1="231.5" x2="532.50" y2="228.0" stroke="#262626" stroke-width="2.0"/>
<line x1="573.50" y1="172.5" x2="573.50" y2="176.0" stroke="#262626" stroke-width="2.0"/>
<line x1="573.50" y1="231.5" x2="573.50" y2="228.0" stroke="#262626" stroke-width="2.0"/>
<line x1="615.50" y1="172.5" x2="615.50" y2="176.0" stroke="#262626" stroke-width="2.0"/>
<line x1="615.50" y1="231.5" x2="615.50" y2="228.0" stroke="#262626" stroke-width="2.0"/>
<line x1="657.50" y1="172.5" x2="657.50" y2="176.0" stroke="#262626" stroke-width="2.0"/>
<line x1="657.50" y1="231.5" x2="657.50" y2="228.0" stroke="#262626" stroke-width="2.0"/>
<line x1="698.50" y1="172.5" x2="698.50" y2="176.0" stroke="#262626" stroke-width="2.0"/>
<line x1="698.50" y1="231.5" x2="698.50" y2="228.0" stroke="#262626" stroke-width="2.0"/>
<rect x="490.5" y="172.5" width="208.0" height="59.0" fill="none" stroke="#262626" stroke-width="2.1"/>
<text x="482.30" y="238.60" text-anchor="end" class="tk">0</text>
<text x="482.30" y="218.93" text-anchor="end" class="tk">0.1</text>
<text x="482.30" y="199.27" text-anchor="end" class="tk">0.2</text>
<text transform="translate(444.50,251.10) rotate(-90)" style="font-size:22px" textLength="97.10" lengthAdjust="spacingAndGlyphs">RAINFALL</text>
<circle cx="506.01" cy="231.90" r="4.25" fill="none" stroke="#0072BD" stroke-width="2.0"/>
<circle cx="507.74" cy="231.90" r="4.25" fill="none" stroke="#0072BD" stroke-width="2.0"/>
<circle cx="509.48" cy="231.90" r="4.25" fill="none" stroke="#0072BD" stroke-width="2.0"/>
<circle cx="511.21" cy="231.90" r="4.25" fill="none" stroke="#0072BD" stroke-width="2.0"/>
<circle cx="512.94" cy="191.70" r="4.25" fill="none" stroke="#0072BD" stroke-width="2.0"/>
<circle cx="514.68" cy="172.00" r="4.25" fill="none" stroke="#0072BD" stroke-width="2.0"/>
<circle cx="516.41" cy="231.90" r="4.25" fill="none" stroke="#0072BD" stroke-width="2.0"/>
<circle cx="518.15" cy="231.90" r="4.25" fill="none" stroke="#0072BD" stroke-width="2.0"/>
<circle cx="519.88" cy="231.90" r="4.25" fill="none" stroke="#0072BD" stroke-width="2.0"/>
<circle cx="521.62" cy="231.90" r="4.25" fill="none" stroke="#0072BD" stroke-width="2.0"/>
<circle cx="523.35" cy="231.90" r="4.25" fill="none" stroke="#0072BD" stroke-width="2.0"/>
<circle cx="525.08" cy="231.90" r="4.25" fill="none" stroke="#0072BD" stroke-width="2.0"/>
<circle cx="526.82" cy="231.90" r="4.25" fill="none" stroke="#0072BD" stroke-width="2.0"/>
<circle cx="528.55" cy="231.90" r="4.25" fill="none" stroke="#0072BD" stroke-width="2.0"/>
<circle cx="530.29" cy="231.90" r="4.25" fill="none" stroke="#0072BD" stroke-width="2.0"/>
<circle cx="532.02" cy="231.90" r="4.25" fill="none" stroke="#0072BD" stroke-width="2.0"/>
<circle cx="533.75" cy="231.90" r="4.25" fill="none" stroke="#0072BD" stroke-width="2.0"/>
<circle cx="535.49" cy="231.90" r="4.25" fill="none" stroke="#0072BD" stroke-width="2.0"/>
<circle cx="537.22" cy="231.90" r="4.25" fill="none" stroke="#0072BD" stroke-width="2.0"/>
<circle cx="538.96" cy="231.90" r="4.25" fill="none" stroke="#0072BD" stroke-width="2.0"/>
<circle cx="540.69" cy="231.90" r="4.25" fill="none" stroke="#0072BD" stroke-width="2.0"/>
<circle cx="542.42" cy="231.90" r="4.25" fill="none" stroke="#0072BD" stroke-width="2.0"/>
<circle cx="544.16" cy="231.90" r="4.25" fill="none" stroke="#0072BD" stroke-width="2.0"/>
<circle cx="545.89" cy="231.90" r="4.25" fill="none" stroke="#0072BD" stroke-width="2.0"/>
<circle cx="547.63" cy="231.90" r="4.25" fill="none" stroke="#0072BD" stroke-width="2.0"/>
<circle cx="549.36" cy="231.90" r="4.25" fill="none" stroke="#0072BD" stroke-width="2.0"/>
<circle cx="551.10" cy="231.90" r="4.25" fill="none" stroke="#0072BD" stroke-width="2.0"/>
<circle cx="552.83" cy="231.90" r="4.25" fill="none" stroke="#0072BD" stroke-width="2.0"/>
<circle cx="554.56" cy="231.90" r="4.25" fill="none" stroke="#0072BD" stroke-width="2.0"/>
<circle cx="556.30" cy="231.90" r="4.25" fill="none" stroke="#0072BD" stroke-width="2.0"/>
<circle cx="558.03" cy="231.90" r="4.25" fill="none" stroke="#0072BD" stroke-width="2.0"/>
<circle cx="559.77" cy="231.90" r="4.25" fill="none" stroke="#0072BD" stroke-width="2.0"/>
<circle cx="561.50" cy="231.90" r="4.25" fill="none" stroke="#0072BD" stroke-width="2.0"/>
<circle cx="563.24" cy="231.90" r="4.25" fill="none" stroke="#0072BD" stroke-width="2.0"/>
<circle cx="564.97" cy="231.90" r="4.25" fill="none" stroke="#0072BD" stroke-width="2.0"/>
<circle cx="566.70" cy="231.90" r="4.25" fill="none" stroke="#0072BD" stroke-width="2.0"/>
<circle cx="568.44" cy="231.90" r="4.25" fill="none" stroke="#0072BD" stroke-width="2.0"/>
<circle cx="570.17" cy="231.90" r="4.25" fill="none" stroke="#0072BD" stroke-width="2.0"/>
<circle cx="571.91" cy="231.90" r="4.25" fill="none" stroke="#0072BD" stroke-width="2.0"/>
<circle cx="573.64" cy="231.90" r="4.25" fill="none" stroke="#0072BD" stroke-width="2.0"/>
<circle cx="575.37" cy="231.90" r="4.25" fill="none" stroke="#0072BD" stroke-width="2.0"/>
<circle cx="577.11" cy="231.90" r="4.25" fill="none" stroke="#0072BD" stroke-width="2.0"/>
<circle cx="578.84" cy="231.90" r="4.25" fill="none" stroke="#0072BD" stroke-width="2.0"/>
<circle cx="580.58" cy="231.90" r="4.25" fill="none" stroke="#0072BD" stroke-width="2.0"/>
<circle cx="582.31" cy="231.90" r="4.25" fill="none" stroke="#0072BD" stroke-width="2.0"/>
<circle cx="584.04" cy="231.90" r="4.25" fill="none" stroke="#0072BD" stroke-width="2.0"/>
<circle cx="585.78" cy="231.90" r="4.25" fill="none" stroke="#0072BD" stroke-width="2.0"/>
<circle cx="587.51" cy="231.90" r="4.25" fill="none" stroke="#0072BD" stroke-width="2.0"/>
<circle cx="589.25" cy="231.90" r="4.25" fill="none" stroke="#0072BD" stroke-width="2.0"/>
<circle cx="590.98" cy="231.90" r="4.25" fill="none" stroke="#0072BD" stroke-width="2.0"/>
<circle cx="592.72" cy="231.90" r="4.25" fill="none" stroke="#0072BD" stroke-width="2.0"/>
<circle cx="594.45" cy="231.90" r="4.25" fill="none" stroke="#0072BD" stroke-width="2.0"/>
<circle cx="596.18" cy="231.90" r="4.25" fill="none" stroke="#0072BD" stroke-width="2.0"/>
<circle cx="597.92" cy="231.90" r="4.25" fill="none" stroke="#0072BD" stroke-width="2.0"/>
<circle cx="599.65" cy="231.90" r="4.25" fill="none" stroke="#0072BD" stroke-width="2.0"/>
<circle cx="601.39" cy="231.90" r="4.25" fill="none" stroke="#0072BD" stroke-width="2.0"/>
<circle cx="603.12" cy="231.90" r="4.25" fill="none" stroke="#0072BD" stroke-width="2.0"/>
<circle cx="604.86" cy="231.90" r="4.25" fill="none" stroke="#0072BD" stroke-width="2.0"/>
<circle cx="606.59" cy="231.90" r="4.25" fill="none" stroke="#0072BD" stroke-width="2.0"/>
<circle cx="608.32" cy="231.90" r="4.25" fill="none" stroke="#0072BD" stroke-width="2.0"/>
<circle cx="610.06" cy="231.90" r="4.25" fill="none" stroke="#0072BD" stroke-width="2.0"/>
<circle cx="611.79" cy="231.90" r="4.25" fill="none" stroke="#0072BD" stroke-width="2.0"/>
<circle cx="613.53" cy="231.90" r="4.25" fill="none" stroke="#0072BD" stroke-width="2.0"/>
<circle cx="615.26" cy="231.90" r="4.25" fill="none" stroke="#0072BD" stroke-width="2.0"/>
<circle cx="616.99" cy="231.90" r="4.25" fill="none" stroke="#0072BD" stroke-width="2.0"/>
<circle cx="618.73" cy="231.90" r="4.25" fill="none" stroke="#0072BD" stroke-width="2.0"/>
<circle cx="620.46" cy="231.90" r="4.25" fill="none" stroke="#0072BD" stroke-width="2.0"/>
<circle cx="622.20" cy="231.90" r="4.25" fill="none" stroke="#0072BD" stroke-width="2.0"/>
<circle cx="623.93" cy="231.90" r="4.25" fill="none" stroke="#0072BD" stroke-width="2.0"/>
<circle cx="625.66" cy="231.90" r="4.25" fill="none" stroke="#0072BD" stroke-width="2.0"/>
<circle cx="627.40" cy="231.90" r="4.25" fill="none" stroke="#0072BD" stroke-width="2.0"/>
<circle cx="629.13" cy="231.90" r="4.25" fill="none" stroke="#0072BD" stroke-width="2.0"/>
<circle cx="630.87" cy="231.90" r="4.25" fill="none" stroke="#0072BD" stroke-width="2.0"/>
<circle cx="632.60" cy="231.90" r="4.25" fill="none" stroke="#0072BD" stroke-width="2.0"/>
<circle cx="634.34" cy="231.90" r="4.25" fill="none" stroke="#0072BD" stroke-width="2.0"/>
<circle cx="636.07" cy="231.90" r="4.25" fill="none" stroke="#0072BD" stroke-width="2.0"/>
<circle cx="637.80" cy="231.90" r="4.25" fill="none" stroke="#0072BD" stroke-width="2.0"/>
<circle cx="639.54" cy="231.90" r="4.25" fill="none" stroke="#0072BD" stroke-width="2.0"/>
<circle cx="641.27" cy="231.90" r="4.25" fill="none" stroke="#0072BD" stroke-width="2.0"/>
<circle cx="643.01" cy="231.90" r="4.25" fill="none" stroke="#0072BD" stroke-width="2.0"/>
<circle cx="644.74" cy="231.90" r="4.25" fill="none" stroke="#0072BD" stroke-width="2.0"/>
<circle cx="646.47" cy="231.90" r="4.25" fill="none" stroke="#0072BD" stroke-width="2.0"/>
<circle cx="648.21" cy="231.90" r="4.25" fill="none" stroke="#0072BD" stroke-width="2.0"/>
<circle cx="649.94" cy="231.90" r="4.25" fill="none" stroke="#0072BD" stroke-width="2.0"/>
<circle cx="651.68" cy="231.90" r="4.25" fill="none" stroke="#0072BD" stroke-width="2.0"/>
<circle cx="653.41" cy="231.90" r="4.25" fill="none" stroke="#0072BD" stroke-width="2.0"/>
<circle cx="655.15" cy="231.90" r="4.25" fill="none" stroke="#0072BD" stroke-width="2.0"/>
<circle cx="656.88" cy="231.90" r="4.25" fill="none" stroke="#0072BD" stroke-width="2.0"/>
<circle cx="658.61" cy="231.90" r="4.25" fill="none" stroke="#0072BD" stroke-width="2.0"/>
<circle cx="660.35" cy="231.90" r="4.25" fill="none" stroke="#0072BD" stroke-width="2.0"/>
<circle cx="662.08" cy="231.90" r="4.25" fill="none" stroke="#0072BD" stroke-width="2.0"/>
<circle cx="663.82" cy="231.90" r="4.25" fill="none" stroke="#0072BD" stroke-width="2.0"/>
<circle cx="665.55" cy="231.90" r="4.25" fill="none" stroke="#0072BD" stroke-width="2.0"/>
<circle cx="667.28" cy="231.90" r="4.25" fill="none" stroke="#0072BD" stroke-width="2.0"/>
<circle cx="669.02" cy="231.90" r="4.25" fill="none" stroke="#0072BD" stroke-width="2.0"/>
<circle cx="670.75" cy="231.90" r="4.25" fill="none" stroke="#0072BD" stroke-width="2.0"/>
<circle cx="672.49" cy="231.90" r="4.25" fill="none" stroke="#0072BD" stroke-width="2.0"/>
<line x1="147.5" y1="351.50" x2="355.5" y2="351.50" stroke="#a8a8a8" stroke-width="1.3" stroke-dasharray="1.4 4.15" stroke-dashoffset="-1.0"/>
<line x1="147.5" y1="343.50" x2="355.5" y2="343.50" stroke="#a8a8a8" stroke-width="1.3" stroke-dasharray="1.4 4.15" stroke-dashoffset="-1.0"/>
<line x1="147.5" y1="335.50" x2="355.5" y2="335.50" stroke="#a8a8a8" stroke-width="1.3" stroke-dasharray="1.4 4.15" stroke-dashoffset="-1.0"/>
<line x1="147.5" y1="327.50" x2="355.5" y2="327.50" stroke="#a8a8a8" stroke-width="1.3" stroke-dasharray="1.4 4.15" stroke-dashoffset="-1.0"/>
<line x1="147.5" y1="311.50" x2="355.5" y2="311.50" stroke="#a8a8a8" stroke-width="1.3" stroke-dasharray="1.4 4.15" stroke-dashoffset="-1.0"/>
<line x1="147.5" y1="303.50" x2="355.5" y2="303.50" stroke="#a8a8a8" stroke-width="1.3" stroke-dasharray="1.4 4.15" stroke-dashoffset="-1.0"/>
<line x1="147.5" y1="359.50" x2="355.5" y2="359.50" stroke="#262626" stroke-opacity="0.14" stroke-width="1.9"/>
<line x1="147.5" y1="319.50" x2="355.5" y2="319.50" stroke="#262626" stroke-opacity="0.14" stroke-width="1.9"/>
<line x1="188.50" y1="299.5" x2="188.50" y2="359.5" stroke="#262626" stroke-opacity="0.14" stroke-width="1.9"/>
<line x1="230.50" y1="299.5" x2="230.50" y2="359.5" stroke="#262626" stroke-opacity="0.14" stroke-width="1.9"/>
<line x1="272.50" y1="299.5" x2="272.50" y2="359.5" stroke="#262626" stroke-opacity="0.14" stroke-width="1.9"/>
<line x1="313.50" y1="299.5" x2="313.50" y2="359.5" stroke="#262626" stroke-opacity="0.14" stroke-width="1.9"/>
<line x1="147.5" y1="359.50" x2="151.0" y2="359.50" stroke="#262626" stroke-width="2.0"/>
<line x1="355.5" y1="359.50" x2="352.0" y2="359.50" stroke="#262626" stroke-width="2.0"/>
<line x1="147.5" y1="319.50" x2="151.0" y2="319.50" stroke="#262626" stroke-width="2.0"/>
<line x1="355.5" y1="319.50" x2="352.0" y2="319.50" stroke="#262626" stroke-width="2.0"/>
<line x1="147.50" y1="299.5" x2="147.50" y2="303.0" stroke="#262626" stroke-width="2.0"/>
<line x1="147.50" y1="359.5" x2="147.50" y2="356.0" stroke="#262626" stroke-width="2.0"/>
<line x1="188.50" y1="299.5" x2="188.50" y2="303.0" stroke="#262626" stroke-width="2.0"/>
<line x1="188.50" y1="359.5" x2="188.50" y2="356.0" stroke="#262626" stroke-width="2.0"/>
<line x1="230.50" y1="299.5" x2="230.50" y2="303.0" stroke="#262626" stroke-width="2.0"/>
<line x1="230.50" y1="359.5" x2="230.50" y2="356.0" stroke="#262626" stroke-width="2.0"/>
<line x1="272.50" y1="299.5" x2="272.50" y2="303.0" stroke="#262626" stroke-width="2.0"/>
<line x1="272.50" y1="359.5" x2="272.50" y2="356.0" stroke="#262626" stroke-width="2.0"/>
<line x1="313.50" y1="299.5" x2="313.50" y2="303.0" stroke="#262626" stroke-width="2.0"/>
<line x1="313.50" y1="359.5" x2="313.50" y2="356.0" stroke="#262626" stroke-width="2.0"/>
<line x1="355.50" y1="299.5" x2="355.50" y2="303.0" stroke="#262626" stroke-width="2.0"/>
<line x1="355.50" y1="359.5" x2="355.50" y2="356.0" stroke="#262626" stroke-width="2.0"/>
<rect x="147.5" y="299.5" width="208.0" height="60.0" fill="none" stroke="#262626" stroke-width="2.1"/>
<text x="138.50" y="366.60" text-anchor="end" class="tk">0</text>
<text x="138.50" y="326.60" text-anchor="end" class="tk">1000</text>
<text transform="translate(84.00,383.50) rotate(-90)" style="font-size:22px" textLength="107.00" lengthAdjust="spacingAndGlyphs">MIXDEPTH</text>
<circle cx="163.11" cy="328.00" r="4.25" fill="none" stroke="#0072BD" stroke-width="2.0"/>
<circle cx="164.84" cy="319.00" r="4.25" fill="none" stroke="#0072BD" stroke-width="2.0"/>
<circle cx="166.58" cy="321.00" r="4.25" fill="none" stroke="#0072BD" stroke-width="2.0"/>
<circle cx="168.31" cy="319.00" r="4.25" fill="none" stroke="#0072BD" stroke-width="2.0"/>
<circle cx="170.04" cy="317.70" r="4.25" fill="none" stroke="#0072BD" stroke-width="2.0"/>
<circle cx="171.78" cy="319.00" r="4.25" fill="none" stroke="#0072BD" stroke-width="2.0"/>
<circle cx="173.51" cy="320.00" r="4.25" fill="none" stroke="#0072BD" stroke-width="2.0"/>
<circle cx="175.25" cy="319.00" r="4.25" fill="none" stroke="#0072BD" stroke-width="2.0"/>
<circle cx="176.98" cy="318.30" r="4.25" fill="none" stroke="#0072BD" stroke-width="2.0"/>
<circle cx="178.72" cy="320.00" r="4.25" fill="none" stroke="#0072BD" stroke-width="2.0"/>
<circle cx="180.45" cy="322.00" r="4.25" fill="none" stroke="#0072BD" stroke-width="2.0"/>
<circle cx="182.18" cy="322.00" r="4.25" fill="none" stroke="#0072BD" stroke-width="2.0"/>
<circle cx="183.92" cy="323.00" r="4.25" fill="none" stroke="#0072BD" stroke-width="2.0"/>
<circle cx="185.65" cy="330.00" r="4.25" fill="none" stroke="#0072BD" stroke-width="2.0"/>
<circle cx="187.39" cy="335.00" r="4.25" fill="none" stroke="#0072BD" stroke-width="2.0"/>
<circle cx="189.12" cy="340.00" r="4.25" fill="none" stroke="#0072BD" stroke-width="2.0"/>
<circle cx="190.85" cy="344.00" r="4.25" fill="none" stroke="#0072BD" stroke-width="2.0"/>
<circle cx="192.59" cy="346.00" r="4.25" fill="none" stroke="#0072BD" stroke-width="2.0"/>
<circle cx="194.32" cy="339.00" r="4.25" fill="none" stroke="#0072BD" stroke-width="2.0"/>
<circle cx="196.06" cy="333.80" r="4.25" fill="none" stroke="#0072BD" stroke-width="2.0"/>
<circle cx="197.79" cy="326.00" r="4.25" fill="none" stroke="#0072BD" stroke-width="2.0"/>
<circle cx="199.53" cy="322.00" r="4.25" fill="none" stroke="#0072BD" stroke-width="2.0"/>
<circle cx="201.26" cy="318.00" r="4.25" fill="none" stroke="#0072BD" stroke-width="2.0"/>
<circle cx="202.99" cy="311.90" r="4.25" fill="none" stroke="#0072BD" stroke-width="2.0"/>
<circle cx="204.73" cy="304.00" r="4.25" fill="none" stroke="#0072BD" stroke-width="2.0"/>
<circle cx="206.46" cy="302.00" r="4.25" fill="none" stroke="#0072BD" stroke-width="2.0"/>
<circle cx="208.20" cy="301.00" r="4.25" fill="none" stroke="#0072BD" stroke-width="2.0"/>
<circle cx="209.93" cy="299.70" r="4.25" fill="none" stroke="#0072BD" stroke-width="2.0"/>
<circle cx="211.66" cy="315.10" r="4.25" fill="none" stroke="#0072BD" stroke-width="2.0"/>
<circle cx="213.40" cy="333.80" r="4.25" fill="none" stroke="#0072BD" stroke-width="2.0"/>
<circle cx="215.13" cy="352.00" r="4.25" fill="none" stroke="#0072BD" stroke-width="2.0"/>
<circle cx="216.87" cy="353.70" r="4.25" fill="none" stroke="#0072BD" stroke-width="2.0"/>
<circle cx="218.60" cy="352.00" r="4.25" fill="none" stroke="#0072BD" stroke-width="2.0"/>
<circle cx="220.33" cy="351.10" r="4.25" fill="none" stroke="#0072BD" stroke-width="2.0"/>
<circle cx="222.07" cy="354.00" r="4.25" fill="none" stroke="#0072BD" stroke-width="2.0"/>
<circle cx="223.80" cy="355.00" r="4.25" fill="none" stroke="#0072BD" stroke-width="2.0"/>
<circle cx="225.54" cy="355.00" r="4.25" fill="none" stroke="#0072BD" stroke-width="2.0"/>
<circle cx="227.27" cy="355.00" r="4.25" fill="none" stroke="#0072BD" stroke-width="2.0"/>
<circle cx="229.01" cy="354.50" r="4.25" fill="none" stroke="#0072BD" stroke-width="2.0"/>
<circle cx="230.74" cy="354.40" r="4.25" fill="none" stroke="#0072BD" stroke-width="2.0"/>
<circle cx="232.47" cy="354.50" r="4.25" fill="none" stroke="#0072BD" stroke-width="2.0"/>
<circle cx="234.21" cy="354.40" r="4.25" fill="none" stroke="#0072BD" stroke-width="2.0"/>
<circle cx="235.94" cy="347.30" r="4.25" fill="none" stroke="#0072BD" stroke-width="2.0"/>
<circle cx="237.68" cy="342.80" r="4.25" fill="none" stroke="#0072BD" stroke-width="2.0"/>
<circle cx="239.41" cy="338.30" r="4.25" fill="none" stroke="#0072BD" stroke-width="2.0"/>
<circle cx="241.14" cy="331.20" r="4.25" fill="none" stroke="#0072BD" stroke-width="2.0"/>
<circle cx="242.88" cy="322.80" r="4.25" fill="none" stroke="#0072BD" stroke-width="2.0"/>
<circle cx="244.61" cy="315.70" r="4.25" fill="none" stroke="#0072BD" stroke-width="2.0"/>
<circle cx="246.35" cy="312.50" r="4.25" fill="none" stroke="#0072BD" stroke-width="2.0"/>
<circle cx="248.08" cy="311.00" r="4.25" fill="none" stroke="#0072BD" stroke-width="2.0"/>
<circle cx="249.82" cy="310.60" r="4.25" fill="none" stroke="#0072BD" stroke-width="2.0"/>
<circle cx="251.55" cy="312.00" r="4.25" fill="none" stroke="#0072BD" stroke-width="2.0"/>
<circle cx="253.28" cy="326.00" r="4.25" fill="none" stroke="#0072BD" stroke-width="2.0"/>
<circle cx="255.02" cy="341.50" r="4.25" fill="none" stroke="#0072BD" stroke-width="2.0"/>
<circle cx="256.75" cy="352.00" r="4.25" fill="none" stroke="#0072BD" stroke-width="2.0"/>
<circle cx="258.49" cy="356.00" r="4.25" fill="none" stroke="#0072BD" stroke-width="2.0"/>
<circle cx="260.22" cy="356.00" r="4.25" fill="none" stroke="#0072BD" stroke-width="2.0"/>
<circle cx="261.95" cy="357.00" r="4.25" fill="none" stroke="#0072BD" stroke-width="2.0"/>
<circle cx="263.69" cy="356.00" r="4.25" fill="none" stroke="#0072BD" stroke-width="2.0"/>
<circle cx="265.42" cy="356.50" r="4.25" fill="none" stroke="#0072BD" stroke-width="2.0"/>
<circle cx="267.16" cy="356.00" r="4.25" fill="none" stroke="#0072BD" stroke-width="2.0"/>
<circle cx="268.89" cy="357.00" r="4.25" fill="none" stroke="#0072BD" stroke-width="2.0"/>
<circle cx="270.63" cy="356.00" r="4.25" fill="none" stroke="#0072BD" stroke-width="2.0"/>
<circle cx="272.36" cy="356.50" r="4.25" fill="none" stroke="#0072BD" stroke-width="2.0"/>
<circle cx="274.09" cy="356.00" r="4.25" fill="none" stroke="#0072BD" stroke-width="2.0"/>
<circle cx="275.83" cy="355.50" r="4.25" fill="none" stroke="#0072BD" stroke-width="2.0"/>
<circle cx="277.56" cy="355.60" r="4.25" fill="none" stroke="#0072BD" stroke-width="2.0"/>
<circle cx="279.30" cy="355.00" r="4.25" fill="none" stroke="#0072BD" stroke-width="2.0"/>
<circle cx="281.03" cy="350.50" r="4.25" fill="none" stroke="#0072BD" stroke-width="2.0"/>
<circle cx="282.76" cy="346.00" r="4.25" fill="none" stroke="#0072BD" stroke-width="2.0"/>
<circle cx="284.50" cy="338.30" r="4.25" fill="none" stroke="#0072BD" stroke-width="2.0"/>
<circle cx="286.23" cy="328.60" r="4.25" fill="none" stroke="#0072BD" stroke-width="2.0"/>
<circle cx="287.97" cy="319.60" r="4.25" fill="none" stroke="#0072BD" stroke-width="2.0"/>
<circle cx="289.70" cy="314.00" r="4.25" fill="none" stroke="#0072BD" stroke-width="2.0"/>
<circle cx="291.44" cy="311.50" r="4.25" fill="none" stroke="#0072BD" stroke-width="2.0"/>
<circle cx="293.17" cy="309.30" r="4.25" fill="none" stroke="#0072BD" stroke-width="2.0"/>
<circle cx="294.90" cy="320.90" r="4.25" fill="none" stroke="#0072BD" stroke-width="2.0"/>
<circle cx="296.64" cy="333.10" r="4.25" fill="none" stroke="#0072BD" stroke-width="2.0"/>
<circle cx="298.37" cy="348.60" r="4.25" fill="none" stroke="#0072BD" stroke-width="2.0"/>
<circle cx="300.11" cy="342.80" r="4.25" fill="none" stroke="#0072BD" stroke-width="2.0"/>
<circle cx="301.84" cy="341.50" r="4.25" fill="none" stroke="#0072BD" stroke-width="2.0"/>
<circle cx="303.57" cy="345.30" r="4.25" fill="none" stroke="#0072BD" stroke-width="2.0"/>
<circle cx="305.31" cy="340.00" r="4.25" fill="none" stroke="#0072BD" stroke-width="2.0"/>
<circle cx="307.04" cy="335.00" r="4.25" fill="none" stroke="#0072BD" stroke-width="2.0"/>
<circle cx="308.78" cy="334.00" r="4.25" fill="none" stroke="#0072BD" stroke-width="2.0"/>
<circle cx="310.51" cy="333.80" r="4.25" fill="none" stroke="#0072BD" stroke-width="2.0"/>
<circle cx="312.25" cy="335.00" r="4.25" fill="none" stroke="#0072BD" stroke-width="2.0"/>
<circle cx="313.98" cy="337.00" r="4.25" fill="none" stroke="#0072BD" stroke-width="2.0"/>
<circle cx="315.71" cy="339.00" r="4.25" fill="none" stroke="#0072BD" stroke-width="2.0"/>
<circle cx="317.45" cy="342.80" r="4.25" fill="none" stroke="#0072BD" stroke-width="2.0"/>
<circle cx="319.18" cy="338.90" r="4.25" fill="none" stroke="#0072BD" stroke-width="2.0"/>
<circle cx="320.92" cy="336.00" r="4.25" fill="none" stroke="#0072BD" stroke-width="2.0"/>
<circle cx="322.65" cy="333.80" r="4.25" fill="none" stroke="#0072BD" stroke-width="2.0"/>
<circle cx="324.38" cy="331.00" r="4.25" fill="none" stroke="#0072BD" stroke-width="2.0"/>
<circle cx="326.12" cy="328.00" r="4.25" fill="none" stroke="#0072BD" stroke-width="2.0"/>
<circle cx="327.85" cy="323.50" r="4.25" fill="none" stroke="#0072BD" stroke-width="2.0"/>
<circle cx="329.59" cy="313.80" r="4.25" fill="none" stroke="#0072BD" stroke-width="2.0"/>
<line x1="490.5" y1="345.83" x2="698.5" y2="345.83" stroke="#a8a8a8" stroke-width="1.3" stroke-dasharray="1.4 4.15" stroke-dashoffset="-1.0"/>
<line x1="490.5" y1="339.33" x2="698.5" y2="339.33" stroke="#a8a8a8" stroke-width="1.3" stroke-dasharray="1.4 4.15" stroke-dashoffset="-1.0"/>
<line x1="490.5" y1="332.82" x2="698.5" y2="332.82" stroke="#a8a8a8" stroke-width="1.3" stroke-dasharray="1.4 4.15" stroke-dashoffset="-1.0"/>
<line x1="490.5" y1="319.80" x2="698.5" y2="319.80" stroke="#a8a8a8" stroke-width="1.3" stroke-dasharray="1.4 4.15" stroke-dashoffset="-1.0"/>
<line x1="490.5" y1="313.30" x2="698.5" y2="313.30" stroke="#a8a8a8" stroke-width="1.3" stroke-dasharray="1.4 4.15" stroke-dashoffset="-1.0"/>
<line x1="490.5" y1="306.79" x2="698.5" y2="306.79" stroke="#a8a8a8" stroke-width="1.3" stroke-dasharray="1.4 4.15" stroke-dashoffset="-1.0"/>
<line x1="490.5" y1="352.34" x2="698.5" y2="352.34" stroke="#262626" stroke-opacity="0.14" stroke-width="1.9"/>
<line x1="490.5" y1="326.31" x2="698.5" y2="326.31" stroke="#262626" stroke-opacity="0.14" stroke-width="1.9"/>
<line x1="490.5" y1="300.28" x2="698.5" y2="300.28" stroke="#262626" stroke-opacity="0.14" stroke-width="1.9"/>
<line x1="532.50" y1="299.5" x2="532.50" y2="359.5" stroke="#262626" stroke-opacity="0.14" stroke-width="1.9"/>
<line x1="573.50" y1="299.5" x2="573.50" y2="359.5" stroke="#262626" stroke-opacity="0.14" stroke-width="1.9"/>
<line x1="615.50" y1="299.5" x2="615.50" y2="359.5" stroke="#262626" stroke-opacity="0.14" stroke-width="1.9"/>
<line x1="657.50" y1="299.5" x2="657.50" y2="359.5" stroke="#262626" stroke-opacity="0.14" stroke-width="1.9"/>
<line x1="490.5" y1="352.34" x2="494.0" y2="352.34" stroke="#262626" stroke-width="2.0"/>
<line x1="698.5" y1="352.34" x2="695.0" y2="352.34" stroke="#262626" stroke-width="2.0"/>
<line x1="490.5" y1="326.31" x2="494.0" y2="326.31" stroke="#262626" stroke-width="2.0"/>
<line x1="698.5" y1="326.31" x2="695.0" y2="326.31" stroke="#262626" stroke-width="2.0"/>
<line x1="490.5" y1="300.28" x2="494.0" y2="300.28" stroke="#262626" stroke-width="2.0"/>
<line x1="698.5" y1="300.28" x2="695.0" y2="300.28" stroke="#262626" stroke-width="2.0"/>
<line x1="490.50" y1="299.5" x2="490.50" y2="303.0" stroke="#262626" stroke-width="2.0"/>
<line x1="490.50" y1="359.5" x2="490.50" y2="356.0" stroke="#262626" stroke-width="2.0"/>
<line x1="532.50" y1="299.5" x2="532.50" y2="303.0" stroke="#262626" stroke-width="2.0"/>
<line x1="532.50" y1="359.5" x2="532.50" y2="356.0" stroke="#262626" stroke-width="2.0"/>
<line x1="573.50" y1="299.5" x2="573.50" y2="303.0" stroke="#262626" stroke-width="2.0"/>
<line x1="573.50" y1="359.5" x2="573.50" y2="356.0" stroke="#262626" stroke-width="2.0"/>
<line x1="615.50" y1="299.5" x2="615.50" y2="303.0" stroke="#262626" stroke-width="2.0"/>
<line x1="615.50" y1="359.5" x2="615.50" y2="356.0" stroke="#262626" stroke-width="2.0"/>
<line x1="657.50" y1="299.5" x2="657.50" y2="303.0" stroke="#262626" stroke-width="2.0"/>
<line x1="657.50" y1="359.5" x2="657.50" y2="356.0" stroke="#262626" stroke-width="2.0"/>
<line x1="698.50" y1="299.5" x2="698.50" y2="303.0" stroke="#262626" stroke-width="2.0"/>
<line x1="698.50" y1="359.5" x2="698.50" y2="356.0" stroke="#262626" stroke-width="2.0"/>
<rect x="490.5" y="299.5" width="208.0" height="60.0" fill="none" stroke="#262626" stroke-width="2.1"/>
<text x="482.30" y="359.44" text-anchor="end" class="tk">4</text>
<text x="482.30" y="333.41" text-anchor="end" class="tk">6</text>
<text x="482.30" y="307.38" text-anchor="end" class="tk">8</text>
<text transform="translate(459.80,385.10) rotate(-90)" style="font-size:22px" textLength="110.60" lengthAdjust="spacingAndGlyphs">H2OMIXRA</text>
<circle cx="506.01" cy="352.09" r="4.25" fill="none" stroke="#0072BD" stroke-width="2.0"/>
<circle cx="507.74" cy="353.45" r="4.25" fill="none" stroke="#0072BD" stroke-width="2.0"/>
<circle cx="509.48" cy="355.32" r="4.25" fill="none" stroke="#0072BD" stroke-width="2.0"/>
<circle cx="511.21" cy="358.81" r="4.25" fill="none" stroke="#0072BD" stroke-width="2.0"/>
<circle cx="512.94" cy="358.41" r="4.25" fill="none" stroke="#0072BD" stroke-width="2.0"/>
<circle cx="514.68" cy="358.17" r="4.25" fill="none" stroke="#0072BD" stroke-width="2.0"/>
<circle cx="516.41" cy="356.47" r="4.25" fill="none" stroke="#0072BD" stroke-width="2.0"/>
<circle cx="518.15" cy="355.65" r="4.25" fill="none" stroke="#0072BD" stroke-width="2.0"/>
<circle cx="519.88" cy="355.64" r="4.25" fill="none" stroke="#0072BD" stroke-width="2.0"/>
<circle cx="521.62" cy="355.22" r="4.25" fill="none" stroke="#0072BD" stroke-width="2.0"/>
<circle cx="523.35" cy="353.87" r="4.25" fill="none" stroke="#0072BD" stroke-width="2.0"/>
<circle cx="525.08" cy="352.52" r="4.25" fill="none" stroke="#0072BD" stroke-width="2.0"/>
<circle cx="526.82" cy="353.39" r="4.25" fill="none" stroke="#0072BD" stroke-width="2.0"/>
<circle cx="528.55" cy="350.48" r="4.25" fill="none" stroke="#0072BD" stroke-width="2.0"/>
<circle cx="530.29" cy="349.90" r="4.25" fill="none" stroke="#0072BD" stroke-width="2.0"/>
<circle cx="532.02" cy="349.35" r="4.25" fill="none" stroke="#0072BD" stroke-width="2.0"/>
<circle cx="533.75" cy="349.44" r="4.25" fill="none" stroke="#0072BD" stroke-width="2.0"/>
<circle cx="535.49" cy="348.77" r="4.25" fill="none" stroke="#0072BD" stroke-width="2.0"/>
<circle cx="537.22" cy="347.87" r="4.25" fill="none" stroke="#0072BD" stroke-width="2.0"/>
<circle cx="538.96" cy="346.99" r="4.25" fill="none" stroke="#0072BD" stroke-width="2.0"/>
<circle cx="540.69" cy="347.28" r="4.25" fill="none" stroke="#0072BD" stroke-width="2.0"/>
<circle cx="542.42" cy="346.40" r="4.25" fill="none" stroke="#0072BD" stroke-width="2.0"/>
<circle cx="544.16" cy="345.23" r="4.25" fill="none" stroke="#0072BD" stroke-width="2.0"/>
<circle cx="545.89" cy="341.13" r="4.25" fill="none" stroke="#0072BD" stroke-width="2.0"/>
<circle cx="547.63" cy="337.64" r="4.25" fill="none" stroke="#0072BD" stroke-width="2.0"/>
<circle cx="549.36" cy="336.40" r="4.25" fill="none" stroke="#0072BD" stroke-width="2.0"/>
<circle cx="551.10" cy="335.14" r="4.25" fill="none" stroke="#0072BD" stroke-width="2.0"/>
<circle cx="552.83" cy="334.64" r="4.25" fill="none" stroke="#0072BD" stroke-width="2.0"/>
<circle cx="554.56" cy="335.12" r="4.25" fill="none" stroke="#0072BD" stroke-width="2.0"/>
<circle cx="556.30" cy="333.95" r="4.25" fill="none" stroke="#0072BD" stroke-width="2.0"/>
<circle cx="558.03" cy="335.43" r="4.25" fill="none" stroke="#0072BD" stroke-width="2.0"/>
<circle cx="559.77" cy="335.86" r="4.25" fill="none" stroke="#0072BD" stroke-width="2.0"/>
<circle cx="561.50" cy="337.53" r="4.25" fill="none" stroke="#0072BD" stroke-width="2.0"/>
<circle cx="563.24" cy="337.09" r="4.25" fill="none" stroke="#0072BD" stroke-width="2.0"/>
<circle cx="564.97" cy="338.13" r="4.25" fill="none" stroke="#0072BD" stroke-width="2.0"/>
<circle cx="566.70" cy="338.00" r="4.25" fill="none" stroke="#0072BD" stroke-width="2.0"/>
<circle cx="568.44" cy="338.70" r="4.25" fill="none" stroke="#0072BD" stroke-width="2.0"/>
<circle cx="570.17" cy="340.52" r="4.25" fill="none" stroke="#0072BD" stroke-width="2.0"/>
<circle cx="571.91" cy="339.91" r="4.25" fill="none" stroke="#0072BD" stroke-width="2.0"/>
<circle cx="573.64" cy="341.25" r="4.25" fill="none" stroke="#0072BD" stroke-width="2.0"/>
<circle cx="575.37" cy="340.86" r="4.25" fill="none" stroke="#0072BD" stroke-width="2.0"/>
<circle cx="577.11" cy="340.40" r="4.25" fill="none" stroke="#0072BD" stroke-width="2.0"/>
<circle cx="578.84" cy="342.16" r="4.25" fill="none" stroke="#0072BD" stroke-width="2.0"/>
<circle cx="580.58" cy="341.24" r="4.25" fill="none" stroke="#0072BD" stroke-width="2.0"/>
<circle cx="582.31" cy="343.12" r="4.25" fill="none" stroke="#0072BD" stroke-width="2.0"/>
<circle cx="584.04" cy="342.12" r="4.25" fill="none" stroke="#0072BD" stroke-width="2.0"/>
<circle cx="585.78" cy="341.88" r="4.25" fill="none" stroke="#0072BD" stroke-width="2.0"/>
<circle cx="587.51" cy="336.53" r="4.25" fill="none" stroke="#0072BD" stroke-width="2.0"/>
<circle cx="589.25" cy="333.71" r="4.25" fill="none" stroke="#0072BD" stroke-width="2.0"/>
<circle cx="590.98" cy="334.47" r="4.25" fill="none" stroke="#0072BD" stroke-width="2.0"/>
<circle cx="592.72" cy="333.28" r="4.25" fill="none" stroke="#0072BD" stroke-width="2.0"/>
<circle cx="594.45" cy="333.25" r="4.25" fill="none" stroke="#0072BD" stroke-width="2.0"/>
<circle cx="596.18" cy="333.04" r="4.25" fill="none" stroke="#0072BD" stroke-width="2.0"/>
<circle cx="597.92" cy="331.51" r="4.25" fill="none" stroke="#0072BD" stroke-width="2.0"/>
<circle cx="599.65" cy="332.42" r="4.25" fill="none" stroke="#0072BD" stroke-width="2.0"/>
<circle cx="601.39" cy="332.21" r="4.25" fill="none" stroke="#0072BD" stroke-width="2.0"/>
<circle cx="603.12" cy="330.67" r="4.25" fill="none" stroke="#0072BD" stroke-width="2.0"/>
<circle cx="604.86" cy="331.21" r="4.25" fill="none" stroke="#0072BD" stroke-width="2.0"/>
<circle cx="606.59" cy="330.62" r="4.25" fill="none" stroke="#0072BD" stroke-width="2.0"/>
<circle cx="608.32" cy="331.48" r="4.25" fill="none" stroke="#0072BD" stroke-width="2.0"/>
<circle cx="610.06" cy="330.23" r="4.25" fill="none" stroke="#0072BD" stroke-width="2.0"/>
<circle cx="611.79" cy="331.13" r="4.25" fill="none" stroke="#0072BD" stroke-width="2.0"/>
<circle cx="613.53" cy="331.67" r="4.25" fill="none" stroke="#0072BD" stroke-width="2.0"/>
<circle cx="615.26" cy="331.60" r="4.25" fill="none" stroke="#0072BD" stroke-width="2.0"/>
<circle cx="616.99" cy="330.48" r="4.25" fill="none" stroke="#0072BD" stroke-width="2.0"/>
<circle cx="618.73" cy="331.75" r="4.25" fill="none" stroke="#0072BD" stroke-width="2.0"/>
<circle cx="620.46" cy="330.65" r="4.25" fill="none" stroke="#0072BD" stroke-width="2.0"/>
<circle cx="622.20" cy="331.64" r="4.25" fill="none" stroke="#0072BD" stroke-width="2.0"/>
<circle cx="623.93" cy="331.05" r="4.25" fill="none" stroke="#0072BD" stroke-width="2.0"/>
<circle cx="625.66" cy="330.41" r="4.25" fill="none" stroke="#0072BD" stroke-width="2.0"/>
<circle cx="627.40" cy="331.35" r="4.25" fill="none" stroke="#0072BD" stroke-width="2.0"/>
<circle cx="629.13" cy="331.32" r="4.25" fill="none" stroke="#0072BD" stroke-width="2.0"/>
<circle cx="630.87" cy="330.95" r="4.25" fill="none" stroke="#0072BD" stroke-width="2.0"/>
<circle cx="632.60" cy="331.57" r="4.25" fill="none" stroke="#0072BD" stroke-width="2.0"/>
<circle cx="634.34" cy="330.80" r="4.25" fill="none" stroke="#0072BD" stroke-width="2.0"/>
<circle cx="636.07" cy="330.83" r="4.25" fill="none" stroke="#0072BD" stroke-width="2.0"/>
<circle cx="637.80" cy="326.69" r="4.25" fill="none" stroke="#0072BD" stroke-width="2.0"/>
<circle cx="639.54" cy="322.96" r="4.25" fill="none" stroke="#0072BD" stroke-width="2.0"/>
<circle cx="641.27" cy="318.25" r="4.25" fill="none" stroke="#0072BD" stroke-width="2.0"/>
<circle cx="643.01" cy="316.44" r="4.25" fill="none" stroke="#0072BD" stroke-width="2.0"/>
<circle cx="644.74" cy="314.89" r="4.25" fill="none" stroke="#0072BD" stroke-width="2.0"/>
<circle cx="646.47" cy="314.08" r="4.25" fill="none" stroke="#0072BD" stroke-width="2.0"/>
<circle cx="648.21" cy="313.25" r="4.25" fill="none" stroke="#0072BD" stroke-width="2.0"/>
<circle cx="649.94" cy="313.77" r="4.25" fill="none" stroke="#0072BD" stroke-width="2.0"/>
<circle cx="651.68" cy="314.12" r="4.25" fill="none" stroke="#0072BD" stroke-width="2.0"/>
<circle cx="653.41" cy="315.14" r="4.25" fill="none" stroke="#0072BD" stroke-width="2.0"/>
<circle cx="655.15" cy="315.89" r="4.25" fill="none" stroke="#0072BD" stroke-width="2.0"/>
<circle cx="656.88" cy="311.11" r="4.25" fill="none" stroke="#0072BD" stroke-width="2.0"/>
<circle cx="658.61" cy="308.51" r="4.25" fill="none" stroke="#0072BD" stroke-width="2.0"/>
<circle cx="660.35" cy="300.21" r="4.25" fill="none" stroke="#0072BD" stroke-width="2.0"/>
<circle cx="662.08" cy="301.49" r="4.25" fill="none" stroke="#0072BD" stroke-width="2.0"/>
<circle cx="663.82" cy="303.76" r="4.25" fill="none" stroke="#0072BD" stroke-width="2.0"/>
<circle cx="665.55" cy="306.51" r="4.25" fill="none" stroke="#0072BD" stroke-width="2.0"/>
<circle cx="667.28" cy="307.15" r="4.25" fill="none" stroke="#0072BD" stroke-width="2.0"/>
<circle cx="669.02" cy="309.59" r="4.25" fill="none" stroke="#0072BD" stroke-width="2.0"/>
<circle cx="670.75" cy="311.00" r="4.25" fill="none" stroke="#0072BD" stroke-width="2.0"/>
<circle cx="672.49" cy="310.95" r="4.25" fill="none" stroke="#0072BD" stroke-width="2.0"/>
<line x1="147.5" y1="482.60" x2="355.5" y2="482.60" stroke="#a8a8a8" stroke-width="1.3" stroke-dasharray="1.4 4.15" stroke-dashoffset="-1.0"/>
<line x1="147.5" y1="477.70" x2="355.5" y2="477.70" stroke="#a8a8a8" stroke-width="1.3" stroke-dasharray="1.4 4.15" stroke-dashoffset="-1.0"/>
<line x1="147.5" y1="472.81" x2="355.5" y2="472.81" stroke="#a8a8a8" stroke-width="1.3" stroke-dasharray="1.4 4.15" stroke-dashoffset="-1.0"/>
<line x1="147.5" y1="467.91" x2="355.5" y2="467.91" stroke="#a8a8a8" stroke-width="1.3" stroke-dasharray="1.4 4.15" stroke-dashoffset="-1.0"/>
<line x1="147.5" y1="458.11" x2="355.5" y2="458.11" stroke="#a8a8a8" stroke-width="1.3" stroke-dasharray="1.4 4.15" stroke-dashoffset="-1.0"/>
<line x1="147.5" y1="453.21" x2="355.5" y2="453.21" stroke="#a8a8a8" stroke-width="1.3" stroke-dasharray="1.4 4.15" stroke-dashoffset="-1.0"/>
<line x1="147.5" y1="448.32" x2="355.5" y2="448.32" stroke="#a8a8a8" stroke-width="1.3" stroke-dasharray="1.4 4.15" stroke-dashoffset="-1.0"/>
<line x1="147.5" y1="443.42" x2="355.5" y2="443.42" stroke="#a8a8a8" stroke-width="1.3" stroke-dasharray="1.4 4.15" stroke-dashoffset="-1.0"/>
<line x1="147.5" y1="433.62" x2="355.5" y2="433.62" stroke="#a8a8a8" stroke-width="1.3" stroke-dasharray="1.4 4.15" stroke-dashoffset="-1.0"/>
<line x1="147.5" y1="428.72" x2="355.5" y2="428.72" stroke="#a8a8a8" stroke-width="1.3" stroke-dasharray="1.4 4.15" stroke-dashoffset="-1.0"/>
<line x1="147.5" y1="487.50" x2="355.5" y2="487.50" stroke="#262626" stroke-opacity="0.14" stroke-width="1.9"/>
<line x1="147.5" y1="463.01" x2="355.5" y2="463.01" stroke="#262626" stroke-opacity="0.14" stroke-width="1.9"/>
<line x1="147.5" y1="438.52" x2="355.5" y2="438.52" stroke="#262626" stroke-opacity="0.14" stroke-width="1.9"/>
<line x1="188.50" y1="427.5" x2="188.50" y2="487.5" stroke="#262626" stroke-opacity="0.14" stroke-width="1.9"/>
<line x1="230.50" y1="427.5" x2="230.50" y2="487.5" stroke="#262626" stroke-opacity="0.14" stroke-width="1.9"/>
<line x1="272.50" y1="427.5" x2="272.50" y2="487.5" stroke="#262626" stroke-opacity="0.14" stroke-width="1.9"/>
<line x1="313.50" y1="427.5" x2="313.50" y2="487.5" stroke="#262626" stroke-opacity="0.14" stroke-width="1.9"/>
<line x1="147.5" y1="487.50" x2="151.0" y2="487.50" stroke="#262626" stroke-width="2.0"/>
<line x1="355.5" y1="487.50" x2="352.0" y2="487.50" stroke="#262626" stroke-width="2.0"/>
<line x1="147.5" y1="463.01" x2="151.0" y2="463.01" stroke="#262626" stroke-width="2.0"/>
<line x1="355.5" y1="463.01" x2="352.0" y2="463.01" stroke="#262626" stroke-width="2.0"/>
<line x1="147.5" y1="438.52" x2="151.0" y2="438.52" stroke="#262626" stroke-width="2.0"/>
<line x1="355.5" y1="438.52" x2="352.0" y2="438.52" stroke="#262626" stroke-width="2.0"/>
<line x1="147.50" y1="427.5" x2="147.50" y2="431.0" stroke="#262626" stroke-width="2.0"/>
<line x1="147.50" y1="487.5" x2="147.50" y2="484.0" stroke="#262626" stroke-width="2.0"/>
<line x1="188.50" y1="427.5" x2="188.50" y2="431.0" stroke="#262626" stroke-width="2.0"/>
<line x1="188.50" y1="487.5" x2="188.50" y2="484.0" stroke="#262626" stroke-width="2.0"/>
<line x1="230.50" y1="427.5" x2="230.50" y2="431.0" stroke="#262626" stroke-width="2.0"/>
<line x1="230.50" y1="487.5" x2="230.50" y2="484.0" stroke="#262626" stroke-width="2.0"/>
<line x1="272.50" y1="427.5" x2="272.50" y2="431.0" stroke="#262626" stroke-width="2.0"/>
<line x1="272.50" y1="487.5" x2="272.50" y2="484.0" stroke="#262626" stroke-width="2.0"/>
<line x1="313.50" y1="427.5" x2="313.50" y2="431.0" stroke="#262626" stroke-width="2.0"/>
<line x1="313.50" y1="487.5" x2="313.50" y2="484.0" stroke="#262626" stroke-width="2.0"/>
<line x1="355.50" y1="427.5" x2="355.50" y2="431.0" stroke="#262626" stroke-width="2.0"/>
<line x1="355.50" y1="487.5" x2="355.50" y2="484.0" stroke="#262626" stroke-width="2.0"/>
<rect x="147.5" y="427.5" width="208.0" height="60.0" fill="none" stroke="#262626" stroke-width="2.1"/>
<text x="138.50" y="494.60" text-anchor="end" class="tk">0</text>
<text x="138.50" y="470.11" text-anchor="end" class="tk">100</text>
<text x="138.50" y="445.62" text-anchor="end" class="tk">200</text>
<text transform="translate(86.00,503.00) rotate(-90)" style="font-size:22px" textLength="51.50" lengthAdjust="spacingAndGlyphs">TERR</text>
<text transform="translate(95.90,450.00) rotate(-90)" style="font-size:16.5px" textLength="13.00" lengthAdjust="spacingAndGlyphs">M</text>
<text transform="translate(86.00,433.50) rotate(-90)" style="font-size:22px" textLength="21.00" lengthAdjust="spacingAndGlyphs">SL</text>
<circle cx="163.11" cy="457.80" r="4.25" fill="none" stroke="#0072BD" stroke-width="2.0"/>
<circle cx="164.84" cy="464.70" r="4.25" fill="none" stroke="#0072BD" stroke-width="2.0"/>
<circle cx="166.58" cy="466.30" r="4.25" fill="none" stroke="#0072BD" stroke-width="2.0"/>
<circle cx="168.31" cy="455.00" r="4.25" fill="none" stroke="#0072BD" stroke-width="2.0"/>
<circle cx="170.04" cy="445.40" r="4.25" fill="none" stroke="#0072BD" stroke-width="2.0"/>
<circle cx="171.78" cy="452.00" r="4.25" fill="none" stroke="#0072BD" stroke-width="2.0"/>
<circle cx="173.51" cy="451.00" r="4.25" fill="none" stroke="#0072BD" stroke-width="2.0"/>
<circle cx="175.25" cy="452.00" r="4.25" fill="none" stroke="#0072BD" stroke-width="2.0"/>
<circle cx="176.98" cy="453.00" r="4.25" fill="none" stroke="#0072BD" stroke-width="2.0"/>
<circle cx="178.72" cy="450.00" r="4.25" fill="none" stroke="#0072BD" stroke-width="2.0"/>
<circle cx="180.45" cy="446.60" r="4.25" fill="none" stroke="#0072BD" stroke-width="2.0"/>
<circle cx="182.18" cy="452.00" r="4.25" fill="none" stroke="#0072BD" stroke-width="2.0"/>
<circle cx="183.92" cy="457.80" r="4.25" fill="none" stroke="#0072BD" stroke-width="2.0"/>
<circle cx="185.65" cy="449.30" r="4.25" fill="none" stroke="#0072BD" stroke-width="2.0"/>
<circle cx="187.39" cy="446.00" r="4.25" fill="none" stroke="#0072BD" stroke-width="2.0"/>
<circle cx="189.12" cy="442.00" r="4.25" fill="none" stroke="#0072BD" stroke-width="2.0"/>
<circle cx="190.85" cy="442.00" r="4.25" fill="none" stroke="#0072BD" stroke-width="2.0"/>
<circle cx="192.59" cy="442.00" r="4.25" fill="none" stroke="#0072BD" stroke-width="2.0"/>
<circle cx="194.32" cy="442.00" r="4.25" fill="none" stroke="#0072BD" stroke-width="2.0"/>
<circle cx="196.06" cy="449.70" r="4.25" fill="none" stroke="#0072BD" stroke-width="2.0"/>
<circle cx="197.79" cy="442.00" r="4.25" fill="none" stroke="#0072BD" stroke-width="2.0"/>
<circle cx="199.53" cy="442.00" r="4.25" fill="none" stroke="#0072BD" stroke-width="2.0"/>
<circle cx="201.26" cy="441.20" r="4.25" fill="none" stroke="#0072BD" stroke-width="2.0"/>
<circle cx="202.99" cy="446.00" r="4.25" fill="none" stroke="#0072BD" stroke-width="2.0"/>
<circle cx="204.73" cy="448.20" r="4.25" fill="none" stroke="#0072BD" stroke-width="2.0"/>
<circle cx="206.46" cy="451.00" r="4.25" fill="none" stroke="#0072BD" stroke-width="2.0"/>
<circle cx="208.20" cy="454.30" r="4.25" fill="none" stroke="#0072BD" stroke-width="2.0"/>
<circle cx="209.93" cy="457.00" r="4.25" fill="none" stroke="#0072BD" stroke-width="2.0"/>
<circle cx="211.66" cy="459.70" r="4.25" fill="none" stroke="#0072BD" stroke-width="2.0"/>
<circle cx="213.40" cy="462.80" r="4.25" fill="none" stroke="#0072BD" stroke-width="2.0"/>
<circle cx="215.13" cy="460.00" r="4.25" fill="none" stroke="#0072BD" stroke-width="2.0"/>
<circle cx="216.87" cy="457.00" r="4.25" fill="none" stroke="#0072BD" stroke-width="2.0"/>
<circle cx="218.60" cy="455.90" r="4.25" fill="none" stroke="#0072BD" stroke-width="2.0"/>
<circle cx="220.33" cy="450.00" r="4.25" fill="none" stroke="#0072BD" stroke-width="2.0"/>
<circle cx="222.07" cy="447.00" r="4.25" fill="none" stroke="#0072BD" stroke-width="2.0"/>
<circle cx="223.80" cy="447.40" r="4.25" fill="none" stroke="#0072BD" stroke-width="2.0"/>
<circle cx="225.54" cy="445.00" r="4.25" fill="none" stroke="#0072BD" stroke-width="2.0"/>
<circle cx="227.27" cy="444.50" r="4.25" fill="none" stroke="#0072BD" stroke-width="2.0"/>
<circle cx="229.01" cy="444.30" r="4.25" fill="none" stroke="#0072BD" stroke-width="2.0"/>
<circle cx="230.74" cy="447.00" r="4.25" fill="none" stroke="#0072BD" stroke-width="2.0"/>
<circle cx="232.47" cy="449.70" r="4.25" fill="none" stroke="#0072BD" stroke-width="2.0"/>
<circle cx="234.21" cy="453.00" r="4.25" fill="none" stroke="#0072BD" stroke-width="2.0"/>
<circle cx="235.94" cy="456.00" r="4.25" fill="none" stroke="#0072BD" stroke-width="2.0"/>
<circle cx="237.68" cy="457.40" r="4.25" fill="none" stroke="#0072BD" stroke-width="2.0"/>
<circle cx="239.41" cy="455.00" r="4.25" fill="none" stroke="#0072BD" stroke-width="2.0"/>
<circle cx="241.14" cy="452.00" r="4.25" fill="none" stroke="#0072BD" stroke-width="2.0"/>
<circle cx="242.88" cy="454.00" r="4.25" fill="none" stroke="#0072BD" stroke-width="2.0"/>
<circle cx="244.61" cy="456.00" r="4.25" fill="none" stroke="#0072BD" stroke-width="2.0"/>
<circle cx="246.35" cy="458.20" r="4.25" fill="none" stroke="#0072BD" stroke-width="2.0"/>
<circle cx="248.08" cy="455.00" r="4.25" fill="none" stroke="#0072BD" stroke-width="2.0"/>
<circle cx="249.82" cy="451.00" r="4.25" fill="none" stroke="#0072BD" stroke-width="2.0"/>
<circle cx="251.55" cy="449.00" r="4.25" fill="none" stroke="#0072BD" stroke-width="2.0"/>
<circle cx="253.28" cy="445.00" r="4.25" fill="none" stroke="#0072BD" stroke-width="2.0"/>
<circle cx="255.02" cy="440.00" r="4.25" fill="none" stroke="#0072BD" stroke-width="2.0"/>
<circle cx="256.75" cy="435.40" r="4.25" fill="none" stroke="#0072BD" stroke-width="2.0"/>
<circle cx="258.49" cy="435.40" r="4.25" fill="none" stroke="#0072BD" stroke-width="2.0"/>
<circle cx="260.22" cy="435.40" r="4.25" fill="none" stroke="#0072BD" stroke-width="2.0"/>
<circle cx="261.95" cy="435.40" r="4.25" fill="none" stroke="#0072BD" stroke-width="2.0"/>
<circle cx="263.69" cy="435.40" r="4.25" fill="none" stroke="#0072BD" stroke-width="2.0"/>
<circle cx="265.42" cy="436.00" r="4.25" fill="none" stroke="#0072BD" stroke-width="2.0"/>
<circle cx="267.16" cy="442.40" r="4.25" fill="none" stroke="#0072BD" stroke-width="2.0"/>
<circle cx="268.89" cy="440.00" r="4.25" fill="none" stroke="#0072BD" stroke-width="2.0"/>
<circle cx="270.63" cy="436.00" r="4.25" fill="none" stroke="#0072BD" stroke-width="2.0"/>
<circle cx="272.36" cy="435.40" r="4.25" fill="none" stroke="#0072BD" stroke-width="2.0"/>
<circle cx="274.09" cy="434.00" r="4.25" fill="none" stroke="#0072BD" stroke-width="2.0"/>
<circle cx="275.83" cy="433.00" r="4.25" fill="none" stroke="#0072BD" stroke-width="2.0"/>
<circle cx="277.56" cy="431.60" r="4.25" fill="none" stroke="#0072BD" stroke-width="2.0"/>
<circle cx="279.30" cy="431.00" r="4.25" fill="none" stroke="#0072BD" stroke-width="2.0"/>
<circle cx="281.03" cy="430.00" r="4.25" fill="none" stroke="#0072BD" stroke-width="2.0"/>
<circle cx="282.76" cy="428.00" r="4.25" fill="none" stroke="#0072BD" stroke-width="2.0"/>
<circle cx="284.50" cy="427.00" r="4.25" fill="none" stroke="#0072BD" stroke-width="2.0"/>
<circle cx="286.23" cy="433.00" r="4.25" fill="none" stroke="#0072BD" stroke-width="2.0"/>
<circle cx="287.97" cy="437.80" r="4.25" fill="none" stroke="#0072BD" stroke-width="2.0"/>
<circle cx="289.70" cy="432.00" r="4.25" fill="none" stroke="#0072BD" stroke-width="2.0"/>
<circle cx="291.44" cy="430.00" r="4.25" fill="none" stroke="#0072BD" stroke-width="2.0"/>
<circle cx="293.17" cy="428.70" r="4.25" fill="none" stroke="#0072BD" stroke-width="2.0"/>
<circle cx="294.90" cy="443.80" r="4.25" fill="none" stroke="#0072BD" stroke-width="2.0"/>
<circle cx="296.64" cy="462.60" r="4.25" fill="none" stroke="#0072BD" stroke-width="2.0"/>
<circle cx="298.37" cy="464.50" r="4.25" fill="none" stroke="#0072BD" stroke-width="2.0"/>
<circle cx="300.11" cy="466.00" r="4.25" fill="none" stroke="#0072BD" stroke-width="2.0"/>
<circle cx="301.84" cy="470.00" r="4.25" fill="none" stroke="#0072BD" stroke-width="2.0"/>
<circle cx="303.57" cy="472.50" r="4.25" fill="none" stroke="#0072BD" stroke-width="2.0"/>
<circle cx="305.31" cy="457.90" r="4.25" fill="none" stroke="#0072BD" stroke-width="2.0"/>
<circle cx="307.04" cy="466.00" r="4.25" fill="none" stroke="#0072BD" stroke-width="2.0"/>
<circle cx="308.78" cy="468.00" r="4.25" fill="none" stroke="#0072BD" stroke-width="2.0"/>
<circle cx="310.51" cy="472.00" r="4.25" fill="none" stroke="#0072BD" stroke-width="2.0"/>
<circle cx="312.25" cy="476.00" r="4.25" fill="none" stroke="#0072BD" stroke-width="2.0"/>
<circle cx="313.98" cy="480.00" r="4.25" fill="none" stroke="#0072BD" stroke-width="2.0"/>
<circle cx="315.71" cy="484.00" r="4.25" fill="none" stroke="#0072BD" stroke-width="2.0"/>
<circle cx="317.45" cy="486.00" r="4.25" fill="none" stroke="#0072BD" stroke-width="2.0"/>
<circle cx="319.18" cy="482.00" r="4.25" fill="none" stroke="#0072BD" stroke-width="2.0"/>
<circle cx="320.92" cy="476.80" r="4.25" fill="none" stroke="#0072BD" stroke-width="2.0"/>
<circle cx="322.65" cy="464.50" r="4.25" fill="none" stroke="#0072BD" stroke-width="2.0"/>
<circle cx="324.38" cy="458.90" r="4.25" fill="none" stroke="#0072BD" stroke-width="2.0"/>
<circle cx="326.12" cy="455.00" r="4.25" fill="none" stroke="#0072BD" stroke-width="2.0"/>
<circle cx="327.85" cy="452.50" r="4.25" fill="none" stroke="#0072BD" stroke-width="2.0"/>
<circle cx="329.59" cy="450.80" r="4.25" fill="none" stroke="#0072BD" stroke-width="2.0"/>
<text transform="translate(160.80,510.20) rotate(-45)" text-anchor="end" class="tk" textLength="50.6" lengthAdjust="spacingAndGlyphs">09/08</text>
<text transform="translate(201.80,510.20) rotate(-45)" text-anchor="end" class="tk" textLength="50.6" lengthAdjust="spacingAndGlyphs">09/09</text>
<text transform="translate(243.80,510.20) rotate(-45)" text-anchor="end" class="tk" textLength="50.6" lengthAdjust="spacingAndGlyphs">09/10</text>
<text transform="translate(285.80,510.20) rotate(-45)" text-anchor="end" class="tk" textLength="50.6" lengthAdjust="spacingAndGlyphs">09/11</text>
<text transform="translate(326.80,510.20) rotate(-45)" text-anchor="end" class="tk" textLength="50.6" lengthAdjust="spacingAndGlyphs">09/12</text>
<text transform="translate(368.80,510.20) rotate(-45)" text-anchor="end" class="tk" textLength="50.6" lengthAdjust="spacingAndGlyphs">09/13</text>
<text x="250.70" y="576.3" text-anchor="middle" style="font-size:22px" textLength="50" lengthAdjust="spacingAndGlyphs">Time</text>
<line x1="490.5" y1="476.90" x2="698.5" y2="476.90" stroke="#a8a8a8" stroke-width="1.3" stroke-dasharray="1.4 4.15" stroke-dashoffset="-1.0"/>
<line x1="490.5" y1="466.30" x2="698.5" y2="466.30" stroke="#a8a8a8" stroke-width="1.3" stroke-dasharray="1.4 4.15" stroke-dashoffset="-1.0"/>
<line x1="490.5" y1="455.70" x2="698.5" y2="455.70" stroke="#a8a8a8" stroke-width="1.3" stroke-dasharray="1.4 4.15" stroke-dashoffset="-1.0"/>
<line x1="490.5" y1="445.10" x2="698.5" y2="445.10" stroke="#a8a8a8" stroke-width="1.3" stroke-dasharray="1.4 4.15" stroke-dashoffset="-1.0"/>
<line x1="490.5" y1="487.50" x2="698.5" y2="487.50" stroke="#262626" stroke-opacity="0.14" stroke-width="1.9"/>
<line x1="490.5" y1="434.50" x2="698.5" y2="434.50" stroke="#262626" stroke-opacity="0.14" stroke-width="1.9"/>
<line x1="532.50" y1="427.5" x2="532.50" y2="487.5" stroke="#262626" stroke-opacity="0.14" stroke-width="1.9"/>
<line x1="573.50" y1="427.5" x2="573.50" y2="487.5" stroke="#262626" stroke-opacity="0.14" stroke-width="1.9"/>
<line x1="615.50" y1="427.5" x2="615.50" y2="487.5" stroke="#262626" stroke-opacity="0.14" stroke-width="1.9"/>
<line x1="657.50" y1="427.5" x2="657.50" y2="487.5" stroke="#262626" stroke-opacity="0.14" stroke-width="1.9"/>
<line x1="490.5" y1="487.50" x2="494.0" y2="487.50" stroke="#262626" stroke-width="2.0"/>
<line x1="698.5" y1="487.50" x2="695.0" y2="487.50" stroke="#262626" stroke-width="2.0"/>
<line x1="490.5" y1="434.50" x2="494.0" y2="434.50" stroke="#262626" stroke-width="2.0"/>
<line x1="698.5" y1="434.50" x2="695.0" y2="434.50" stroke="#262626" stroke-width="2.0"/>
<line x1="490.50" y1="427.5" x2="490.50" y2="431.0" stroke="#262626" stroke-width="2.0"/>
<line x1="490.50" y1="487.5" x2="490.50" y2="484.0" stroke="#262626" stroke-width="2.0"/>
<line x1="532.50" y1="427.5" x2="532.50" y2="431.0" stroke="#262626" stroke-width="2.0"/>
<line x1="532.50" y1="487.5" x2="532.50" y2="484.0" stroke="#262626" stroke-width="2.0"/>
<line x1="573.50" y1="427.5" x2="573.50" y2="431.0" stroke="#262626" stroke-width="2.0"/>
<line x1="573.50" y1="487.5" x2="573.50" y2="484.0" stroke="#262626" stroke-width="2.0"/>
<line x1="615.50" y1="427.5" x2="615.50" y2="431.0" stroke="#262626" stroke-width="2.0"/>
<line x1="615.50" y1="487.5" x2="615.50" y2="484.0" stroke="#262626" stroke-width="2.0"/>
<line x1="657.50" y1="427.5" x2="657.50" y2="431.0" stroke="#262626" stroke-width="2.0"/>
<line x1="657.50" y1="487.5" x2="657.50" y2="484.0" stroke="#262626" stroke-width="2.0"/>
<line x1="698.50" y1="427.5" x2="698.50" y2="431.0" stroke="#262626" stroke-width="2.0"/>
<line x1="698.50" y1="487.5" x2="698.50" y2="484.0" stroke="#262626" stroke-width="2.0"/>
<rect x="490.5" y="427.5" width="208.0" height="60.0" fill="none" stroke="#262626" stroke-width="2.1"/>
<text x="482.30" y="494.60" text-anchor="end" class="tk">0</text>
<text x="482.30" y="441.60" text-anchor="end" class="tk">500</text>
<text transform="translate(399.30,504.30) rotate(-90)" style="font-size:22px" textLength="42.00" lengthAdjust="spacingAndGlyphs">SUN</text>
<text transform="translate(408.80,457.90) rotate(-90)" style="font-size:16.5px" textLength="7.50" lengthAdjust="spacingAndGlyphs">F</text>
<text transform="translate(399.30,449.20) rotate(-90)" style="font-size:22px" textLength="38.00" lengthAdjust="spacingAndGlyphs">LUX</text>
<circle cx="506.60" cy="475.30" r="4.25" fill="none" stroke="#0072BD" stroke-width="2.0"/>
<circle cx="508.50" cy="478.60" r="4.25" fill="none" stroke="#0072BD" stroke-width="2.0"/>
<circle cx="510.40" cy="481.10" r="4.25" fill="none" stroke="#0072BD" stroke-width="2.0"/>
<circle cx="513.00" cy="483.70" r="4.25" fill="none" stroke="#0072BD" stroke-width="2.0"/>
<circle cx="515.60" cy="485.00" r="4.25" fill="none" stroke="#0072BD" stroke-width="2.0"/>
<circle cx="518.80" cy="484.40" r="4.25" fill="none" stroke="#0072BD" stroke-width="2.0"/>
<circle cx="520.50" cy="483.00" r="4.25" fill="none" stroke="#0072BD" stroke-width="2.0"/>
<circle cx="522.70" cy="482.40" r="4.25" fill="none" stroke="#0072BD" stroke-width="2.0"/>
<circle cx="524.30" cy="483.50" r="4.25" fill="none" stroke="#0072BD" stroke-width="2.0"/>
<circle cx="525.90" cy="484.40" r="4.25" fill="none" stroke="#0072BD" stroke-width="2.0"/>
<circle cx="527.80" cy="485.00" r="4.25" fill="none" stroke="#0072BD" stroke-width="2.0"/>
<circle cx="529.70" cy="485.60" r="4.25" fill="none" stroke="#0072BD" stroke-width="2.0"/>
<circle cx="531.60" cy="485.60" r="4.25" fill="none" stroke="#0072BD" stroke-width="2.0"/>
<circle cx="533.60" cy="485.60" r="4.25" fill="none" stroke="#0072BD" stroke-width="2.0"/>
<circle cx="535.50" cy="484.00" r="4.25" fill="none" stroke="#0072BD" stroke-width="2.0"/>
<circle cx="537.50" cy="481.80" r="4.25" fill="none" stroke="#0072BD" stroke-width="2.0"/>
<circle cx="539.40" cy="478.60" r="4.25" fill="none" stroke="#0072BD" stroke-width="2.0"/>
<circle cx="541.30" cy="475.30" r="4.25" fill="none" stroke="#0072BD" stroke-width="2.0"/>
<circle cx="543.30" cy="471.50" r="4.25" fill="none" stroke="#0072BD" stroke-width="2.0"/>
<circle cx="543.90" cy="461.20" r="4.25" fill="none" stroke="#0072BD" stroke-width="2.0"/>
<circle cx="545.80" cy="445.70" r="4.25" fill="none" stroke="#0072BD" stroke-width="2.0"/>
<circle cx="547.10" cy="430.30" r="4.25" fill="none" stroke="#0072BD" stroke-width="2.0"/>
<circle cx="548.70" cy="430.30" r="4.25" fill="none" stroke="#0072BD" stroke-width="2.0"/>
<circle cx="550.30" cy="430.30" r="4.25" fill="none" stroke="#0072BD" stroke-width="2.0"/>
<circle cx="552.00" cy="430.30" r="4.25" fill="none" stroke="#0072BD" stroke-width="2.0"/>
<circle cx="553.60" cy="430.30" r="4.25" fill="none" stroke="#0072BD" stroke-width="2.0"/>
<circle cx="554.20" cy="442.50" r="4.25" fill="none" stroke="#0072BD" stroke-width="2.0"/>
<circle cx="556.10" cy="454.10" r="4.25" fill="none" stroke="#0072BD" stroke-width="2.0"/>
<circle cx="558.10" cy="465.00" r="4.25" fill="none" stroke="#0072BD" stroke-width="2.0"/>
<circle cx="559.50" cy="468.90" r="4.25" fill="none" stroke="#0072BD" stroke-width="2.0"/>
<circle cx="561.40" cy="472.10" r="4.25" fill="none" stroke="#0072BD" stroke-width="2.0"/>
<circle cx="563.40" cy="475.30" r="4.25" fill="none" stroke="#0072BD" stroke-width="2.0"/>
<circle cx="565.30" cy="478.60" r="4.25" fill="none" stroke="#0072BD" stroke-width="2.0"/>
<circle cx="567.20" cy="481.80" r="4.25" fill="none" stroke="#0072BD" stroke-width="2.0"/>
<circle cx="569.20" cy="485.00" r="4.25" fill="none" stroke="#0072BD" stroke-width="2.0"/>
<circle cx="571.70" cy="485.60" r="4.25" fill="none" stroke="#0072BD" stroke-width="2.0"/>
<circle cx="573.60" cy="485.60" r="4.25" fill="none" stroke="#0072BD" stroke-width="2.0"/>
<circle cx="575.60" cy="485.60" r="4.25" fill="none" stroke="#0072BD" stroke-width="2.0"/>
<circle cx="577.20" cy="485.00" r="4.25" fill="none" stroke="#0072BD" stroke-width="2.0"/>
<circle cx="578.80" cy="484.40" r="4.25" fill="none" stroke="#0072BD" stroke-width="2.0"/>
<circle cx="580.10" cy="482.50" r="4.25" fill="none" stroke="#0072BD" stroke-width="2.0"/>
<circle cx="581.40" cy="480.50" r="4.25" fill="none" stroke="#0072BD" stroke-width="2.0"/>
<circle cx="583.30" cy="476.60" r="4.25" fill="none" stroke="#0072BD" stroke-width="2.0"/>
<circle cx="584.60" cy="474.00" r="4.25" fill="none" stroke="#0072BD" stroke-width="2.0"/>
<circle cx="585.90" cy="459.90" r="4.25" fill="none" stroke="#0072BD" stroke-width="2.0"/>
<circle cx="587.20" cy="444.50" r="4.25" fill="none" stroke="#0072BD" stroke-width="2.0"/>
<circle cx="587.80" cy="429.00" r="4.25" fill="none" stroke="#0072BD" stroke-width="2.0"/>
<circle cx="589.70" cy="428.30" r="4.25" fill="none" stroke="#0072BD" stroke-width="2.0"/>
<circle cx="591.70" cy="427.70" r="4.25" fill="none" stroke="#0072BD" stroke-width="2.0"/>
<circle cx="593.30" cy="427.00" r="4.25" fill="none" stroke="#0072BD" stroke-width="2.0"/>
<circle cx="594.90" cy="426.40" r="4.25" fill="none" stroke="#0072BD" stroke-width="2.0"/>
<circle cx="596.20" cy="437.40" r="4.25" fill="none" stroke="#0072BD" stroke-width="2.0"/>
<circle cx="598.10" cy="447.00" r="4.25" fill="none" stroke="#0072BD" stroke-width="2.0"/>
<circle cx="599.40" cy="456.00" r="4.25" fill="none" stroke="#0072BD" stroke-width="2.0"/>
<circle cx="601.30" cy="461.20" r="4.25" fill="none" stroke="#0072BD" stroke-width="2.0"/>
<circle cx="603.30" cy="465.00" r="4.25" fill="none" stroke="#0072BD" stroke-width="2.0"/>
<circle cx="604.50" cy="468.90" r="4.25" fill="none" stroke="#0072BD" stroke-width="2.0"/>
<circle cx="606.50" cy="472.80" r="4.25" fill="none" stroke="#0072BD" stroke-width="2.0"/>
<circle cx="607.80" cy="476.60" r="4.25" fill="none" stroke="#0072BD" stroke-width="2.0"/>
<circle cx="609.10" cy="480.50" r="4.25" fill="none" stroke="#0072BD" stroke-width="2.0"/>
<circle cx="610.30" cy="484.40" r="4.25" fill="none" stroke="#0072BD" stroke-width="2.0"/>
<circle cx="612.20" cy="485.00" r="4.25" fill="none" stroke="#0072BD" stroke-width="2.0"/>
<circle cx="614.20" cy="485.60" r="4.25" fill="none" stroke="#0072BD" stroke-width="2.0"/>
<circle cx="616.00" cy="485.60" r="4.25" fill="none" stroke="#0072BD" stroke-width="2.0"/>
<circle cx="617.80" cy="485.60" r="4.25" fill="none" stroke="#0072BD" stroke-width="2.0"/>
<circle cx="619.30" cy="485.60" r="4.25" fill="none" stroke="#0072BD" stroke-width="2.0"/>
<circle cx="621.30" cy="483.00" r="4.25" fill="none" stroke="#0072BD" stroke-width="2.0"/>
<circle cx="623.20" cy="480.50" r="4.25" fill="none" stroke="#0072BD" stroke-width="2.0"/>
<circle cx="624.90" cy="480.50" r="4.25" fill="none" stroke="#0072BD" stroke-width="2.0"/>
<circle cx="626.20" cy="478.60" r="4.25" fill="none" stroke="#0072BD" stroke-width="2.0"/>
<circle cx="627.40" cy="465.00" r="4.25" fill="none" stroke="#0072BD" stroke-width="2.0"/>
<circle cx="628.70" cy="450.90" r="4.25" fill="none" stroke="#0072BD" stroke-width="2.0"/>
<circle cx="630.00" cy="436.10" r="4.25" fill="none" stroke="#0072BD" stroke-width="2.0"/>
<circle cx="632.60" cy="434.20" r="4.25" fill="none" stroke="#0072BD" stroke-width="2.0"/>
<circle cx="635.20" cy="432.90" r="4.25" fill="none" stroke="#0072BD" stroke-width="2.0"/>
<circle cx="637.70" cy="432.90" r="4.25" fill="none" stroke="#0072BD" stroke-width="2.0"/>
<circle cx="638.80" cy="439.90" r="4.25" fill="none" stroke="#0072BD" stroke-width="2.0"/>
<circle cx="639.40" cy="446.80" r="4.25" fill="none" stroke="#0072BD" stroke-width="2.0"/>
<circle cx="640.50" cy="452.60" r="4.25" fill="none" stroke="#0072BD" stroke-width="2.0"/>
<circle cx="641.70" cy="457.20" r="4.25" fill="none" stroke="#0072BD" stroke-width="2.0"/>
<circle cx="642.80" cy="461.80" r="4.25" fill="none" stroke="#0072BD" stroke-width="2.0"/>
<circle cx="644.00" cy="465.80" r="4.25" fill="none" stroke="#0072BD" stroke-width="2.0"/>
<circle cx="645.70" cy="469.80" r="4.25" fill="none" stroke="#0072BD" stroke-width="2.0"/>
<circle cx="647.40" cy="474.40" r="4.25" fill="none" stroke="#0072BD" stroke-width="2.0"/>
<circle cx="648.60" cy="477.90" r="4.25" fill="none" stroke="#0072BD" stroke-width="2.0"/>
<circle cx="649.70" cy="481.30" r="4.25" fill="none" stroke="#0072BD" stroke-width="2.0"/>
<circle cx="650.60" cy="484.40" r="4.25" fill="none" stroke="#0072BD" stroke-width="2.0"/>
<circle cx="653.00" cy="486.00" r="4.25" fill="none" stroke="#0072BD" stroke-width="2.0"/>
<circle cx="655.80" cy="486.90" r="4.25" fill="none" stroke="#0072BD" stroke-width="2.0"/>
<circle cx="658.30" cy="486.50" r="4.25" fill="none" stroke="#0072BD" stroke-width="2.0"/>
<circle cx="660.90" cy="485.60" r="4.25" fill="none" stroke="#0072BD" stroke-width="2.0"/>
<circle cx="663.50" cy="484.50" r="4.25" fill="none" stroke="#0072BD" stroke-width="2.0"/>
<circle cx="666.00" cy="483.10" r="4.25" fill="none" stroke="#0072BD" stroke-width="2.0"/>
<circle cx="668.60" cy="477.90" r="4.25" fill="none" stroke="#0072BD" stroke-width="2.0"/>
<circle cx="670.60" cy="470.20" r="4.25" fill="none" stroke="#0072BD" stroke-width="2.0"/>
<circle cx="672.50" cy="463.80" r="4.25" fill="none" stroke="#0072BD" stroke-width="2.0"/>
<text transform="translate(503.80,510.20) rotate(-45)" text-anchor="end" class="tk" textLength="50.6" lengthAdjust="spacingAndGlyphs">09/08</text>
<text transform="translate(545.80,510.20) rotate(-45)" text-anchor="end" class="tk" textLength="50.6" lengthAdjust="spacingAndGlyphs">09/09</text>
<text transform="translate(586.80,510.20) rotate(-45)" text-anchor="end" class="tk" textLength="50.6" lengthAdjust="spacingAndGlyphs">09/10</text>
<text transform="translate(628.80,510.20) rotate(-45)" text-anchor="end" class="tk" textLength="50.6" lengthAdjust="spacingAndGlyphs">09/11</text>
<text transform="translate(670.80,510.20) rotate(-45)" text-anchor="end" class="tk" textLength="50.6" lengthAdjust="spacingAndGlyphs">09/12</text>
<text transform="translate(711.80,510.20) rotate(-45)" text-anchor="end" class="tk" textLength="50.6" lengthAdjust="spacingAndGlyphs">09/13</text>
<text x="593.70" y="576.3" text-anchor="middle" style="font-size:22px" textLength="50" lengthAdjust="spacingAndGlyphs">Time</text>
<text x="251.3" y="32.1" text-anchor="middle" class="ti">Figure 2 low</text>
</svg>
</body></html>
